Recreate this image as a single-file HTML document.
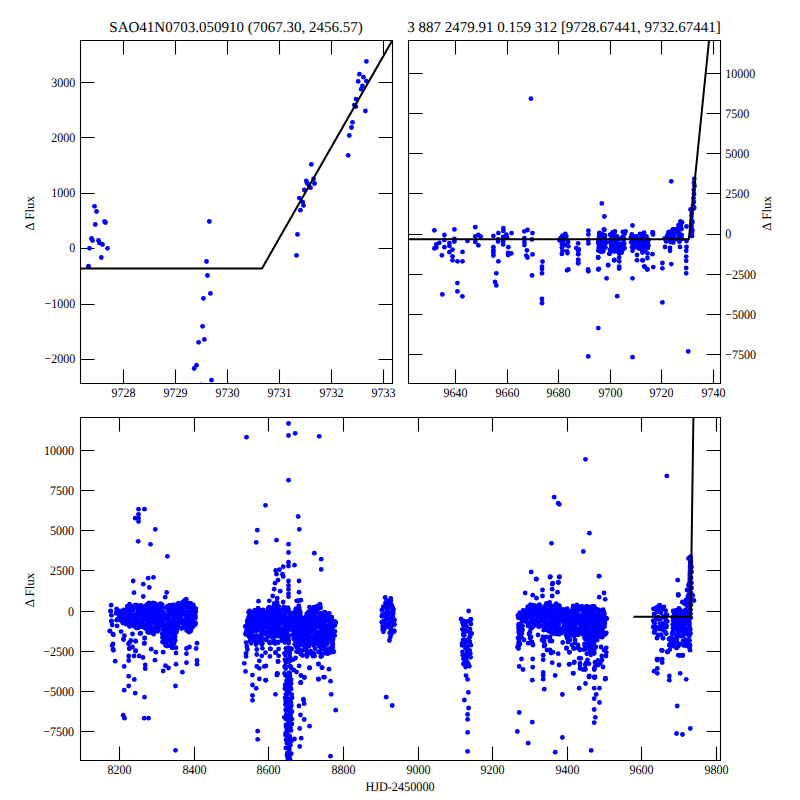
<!DOCTYPE html><html><head><meta charset="utf-8"><style>html,body{margin:0;padding:0;background:#fff;}svg{display:block;font-family:"Liberation Serif",serif;text-rendering:geometricPrecision;}</style></head><body>
<svg width="800" height="800" viewBox="0 0 800 800">
<rect width="800" height="800" fill="#fff"/>
<path d="M80.5 40.5H392.5V383.5H80.5ZM123.50 383.5v-14M123.50 40.5v14M175.50 383.5v-14M175.50 40.5v14M227.50 383.5v-14M227.50 40.5v14M279.50 383.5v-14M279.50 40.5v14M331.50 383.5v-14M331.50 40.5v14M383.50 383.5v-14M383.50 40.5v14M80.5 82.50h14M392.5 82.50h-14M80.5 137.50h14M392.5 137.50h-14M80.5 193.50h14M392.5 193.50h-14M80.5 248.50h14M392.5 248.50h-14M80.5 304.50h14M392.5 304.50h-14M80.5 359.50h14M392.5 359.50h-14" fill="none" stroke="#000" stroke-width="1.1"/>
<path d="M408.5 40.5H720.5V383.5H408.5ZM455.50 383.5v-14M455.50 40.5v14M507.50 383.5v-14M507.50 40.5v14M558.50 383.5v-14M558.50 40.5v14M610.50 383.5v-14M610.50 40.5v14M661.50 383.5v-14M661.50 40.5v14M713.50 383.5v-14M713.50 40.5v14M408.5 73.50h14M720.5 73.50h-14M408.5 113.50h14M720.5 113.50h-14M408.5 153.50h14M720.5 153.50h-14M408.5 193.50h14M720.5 193.50h-14M408.5 234.50h14M720.5 234.50h-14M408.5 274.50h14M720.5 274.50h-14M408.5 314.50h14M720.5 314.50h-14M408.5 354.50h14M720.5 354.50h-14" fill="none" stroke="#000" stroke-width="1.1"/>
<path d="M80.5 417.5H720.5V760.5H80.5ZM119.50 760.5v-14M119.50 417.5v14M194.50 760.5v-14M194.50 417.5v14M268.50 760.5v-14M268.50 417.5v14M343.50 760.5v-14M343.50 417.5v14M418.50 760.5v-14M418.50 417.5v14M492.50 760.5v-14M492.50 417.5v14M567.50 760.5v-14M567.50 417.5v14M641.50 760.5v-14M641.50 417.5v14M716.50 760.5v-14M716.50 417.5v14M80.5 450.50h14M720.5 450.50h-14M80.5 490.50h14M720.5 490.50h-14M80.5 530.50h14M720.5 530.50h-14M80.5 570.50h14M720.5 570.50h-14M80.5 611.50h14M720.5 611.50h-14M80.5 651.50h14M720.5 651.50h-14M80.5 691.50h14M720.5 691.50h-14M80.5 731.50h14M720.5 731.50h-14" fill="none" stroke="#000" stroke-width="1.1"/>
<clipPath id="c1"><rect x="80.5" y="40.5" width="312.0" height="343.0"/></clipPath>
<clipPath id="c2"><rect x="408.5" y="40.5" width="312.0" height="343.0"/></clipPath>
<clipPath id="c3"><rect x="80.5" y="417.5" width="640.0" height="343.0"/></clipPath>
<g clip-path="url(#c1)" fill="#0000ff">
<circle cx="94.5" cy="206.3" r="2.4"/><circle cx="96.5" cy="211.5" r="2.4"/><circle cx="104.5" cy="221.5" r="2.4"/><circle cx="105.5" cy="222.5" r="2.4"/><circle cx="95.3" cy="224.5" r="2.4"/><circle cx="91.5" cy="238.5" r="2.4"/><circle cx="92.5" cy="240.5" r="2.4"/><circle cx="98.5" cy="240.5" r="2.4"/><circle cx="99.5" cy="243.0" r="2.4"/><circle cx="102.5" cy="244.5" r="2.4"/><circle cx="89.5" cy="248.3" r="2.4"/><circle cx="107.5" cy="248.3" r="2.4"/><circle cx="101.3" cy="257.5" r="2.4"/><circle cx="88.5" cy="266.2" r="2.4"/><circle cx="209.3" cy="221.5" r="2.4"/><circle cx="206.5" cy="261.5" r="2.4"/><circle cx="207.5" cy="275.5" r="2.4"/><circle cx="210.4" cy="293.4" r="2.4"/><circle cx="203.4" cy="298.4" r="2.4"/><circle cx="202.6" cy="326.3" r="2.4"/><circle cx="204.4" cy="339.4" r="2.4"/><circle cx="198.6" cy="342.3" r="2.4"/><circle cx="196.5" cy="365.2" r="2.4"/><circle cx="194.2" cy="368.5" r="2.4"/><circle cx="211.5" cy="380.2" r="2.4"/><circle cx="200.5" cy="384.8" r="2.4"/><circle cx="311.3" cy="164.4" r="2.4"/><circle cx="306.3" cy="181.0" r="2.4"/><circle cx="307.2" cy="183.2" r="2.4"/><circle cx="308.8" cy="184.9" r="2.4"/><circle cx="313.6" cy="179.0" r="2.4"/><circle cx="314.5" cy="183.5" r="2.4"/><circle cx="310.5" cy="187.7" r="2.4"/><circle cx="304.3" cy="190.0" r="2.4"/><circle cx="299.3" cy="198.1" r="2.4"/><circle cx="302.7" cy="202.1" r="2.4"/><circle cx="303.5" cy="205.4" r="2.4"/><circle cx="300.4" cy="210.2" r="2.4"/><circle cx="297.5" cy="234.4" r="2.4"/><circle cx="296.5" cy="255.4" r="2.4"/><circle cx="366.4" cy="61.4" r="2.4"/><circle cx="359.4" cy="74.2" r="2.4"/><circle cx="363.5" cy="77.2" r="2.4"/><circle cx="358.2" cy="81.4" r="2.4"/><circle cx="366.3" cy="81.1" r="2.4"/><circle cx="362.4" cy="86.0" r="2.4"/><circle cx="361.2" cy="89.2" r="2.4"/><circle cx="356.0" cy="99.1" r="2.4"/><circle cx="354.3" cy="105.1" r="2.4"/><circle cx="355.8" cy="106.6" r="2.4"/><circle cx="365.4" cy="111.0" r="2.4"/><circle cx="352.5" cy="122.3" r="2.4"/><circle cx="351.5" cy="127.5" r="2.4"/><circle cx="349.3" cy="135.5" r="2.4"/><circle cx="348.2" cy="155.3" r="2.4"/>
</g>
<g clip-path="url(#c2)" fill="#0000ff">
<circle cx="434.4" cy="230.3" r="2.4"/><circle cx="454.4" cy="229.4" r="2.4"/><circle cx="444.4" cy="235.0" r="2.4"/><circle cx="444.4" cy="240.0" r="2.4"/><circle cx="454.4" cy="238.8" r="2.4"/><circle cx="454.4" cy="241.6" r="2.4"/><circle cx="439.4" cy="242.8" r="2.4"/><circle cx="436.3" cy="244.4" r="2.4"/><circle cx="434.4" cy="248.4" r="2.4"/><circle cx="436.3" cy="247.5" r="2.4"/><circle cx="449.4" cy="243.1" r="2.4"/><circle cx="449.4" cy="245.9" r="2.4"/><circle cx="444.4" cy="247.2" r="2.4"/><circle cx="452.5" cy="249.7" r="2.4"/><circle cx="449.4" cy="252.2" r="2.4"/><circle cx="441.9" cy="255.3" r="2.4"/><circle cx="452.5" cy="256.3" r="2.4"/><circle cx="452.5" cy="260.3" r="2.4"/><circle cx="457.5" cy="261.3" r="2.4"/><circle cx="462.5" cy="261.3" r="2.4"/><circle cx="462.5" cy="251.9" r="2.4"/><circle cx="467.5" cy="240.9" r="2.4"/><circle cx="457.4" cy="283.1" r="2.4"/><circle cx="457.4" cy="291.3" r="2.4"/><circle cx="442.4" cy="294.4" r="2.4"/><circle cx="462.4" cy="296.3" r="2.4"/><circle cx="475.3" cy="227.2" r="2.4"/><circle cx="475.3" cy="236.3" r="2.4"/><circle cx="478.4" cy="235.0" r="2.4"/><circle cx="480.6" cy="236.6" r="2.4"/><circle cx="475.3" cy="241.9" r="2.4"/><circle cx="478.4" cy="245.3" r="2.4"/><circle cx="493.4" cy="235.9" r="2.4"/><circle cx="498.4" cy="233.1" r="2.4"/><circle cx="503.4" cy="228.1" r="2.4"/><circle cx="503.4" cy="230.9" r="2.4"/><circle cx="511.6" cy="233.1" r="2.4"/><circle cx="506.3" cy="234.7" r="2.4"/><circle cx="503.1" cy="236.9" r="2.4"/><circle cx="506.9" cy="237.2" r="2.4"/><circle cx="498.1" cy="239.4" r="2.4"/><circle cx="498.1" cy="241.6" r="2.4"/><circle cx="503.1" cy="241.3" r="2.4"/><circle cx="503.1" cy="244.4" r="2.4"/><circle cx="508.4" cy="247.2" r="2.4"/><circle cx="493.4" cy="247.2" r="2.4"/><circle cx="493.4" cy="250.3" r="2.4"/><circle cx="493.4" cy="252.8" r="2.4"/><circle cx="493.4" cy="255.6" r="2.4"/><circle cx="508.1" cy="252.8" r="2.4"/><circle cx="511.3" cy="253.4" r="2.4"/><circle cx="508.1" cy="255.0" r="2.4"/><circle cx="498.4" cy="261.3" r="2.4"/><circle cx="496.3" cy="273.3" r="2.4"/><circle cx="495.0" cy="281.9" r="2.4"/><circle cx="496.3" cy="285.4" r="2.4"/><circle cx="524.4" cy="231.3" r="2.4"/><circle cx="527.5" cy="230.0" r="2.4"/><circle cx="532.5" cy="233.1" r="2.4"/><circle cx="524.4" cy="238.1" r="2.4"/><circle cx="524.4" cy="241.9" r="2.4"/><circle cx="524.4" cy="245.0" r="2.4"/><circle cx="531.9" cy="239.4" r="2.4"/><circle cx="526.9" cy="250.3" r="2.4"/><circle cx="526.3" cy="255.6" r="2.4"/><circle cx="527.5" cy="257.5" r="2.4"/><circle cx="532.5" cy="254.4" r="2.4"/><circle cx="542.5" cy="261.6" r="2.4"/><circle cx="542.0" cy="266.6" r="2.4"/><circle cx="542.0" cy="269.1" r="2.4"/><circle cx="542.0" cy="273.3" r="2.4"/><circle cx="542.0" cy="299.0" r="2.4"/><circle cx="542.0" cy="303.2" r="2.4"/><circle cx="532.1" cy="275.4" r="2.4"/><circle cx="559.4" cy="240.0" r="2.4"/><circle cx="567.0" cy="270.3" r="2.4"/><circle cx="530.9" cy="98.7" r="2.4"/><circle cx="565.3" cy="233.8" r="2.4"/><circle cx="562.5" cy="235.6" r="2.4"/><circle cx="566.3" cy="236.3" r="2.4"/><circle cx="560.6" cy="238.1" r="2.4"/><circle cx="564.4" cy="238.8" r="2.4"/><circle cx="560.0" cy="240.6" r="2.4"/><circle cx="563.1" cy="241.3" r="2.4"/><circle cx="568.1" cy="241.9" r="2.4"/><circle cx="561.9" cy="244.4" r="2.4"/><circle cx="565.0" cy="245.0" r="2.4"/><circle cx="568.4" cy="246.3" r="2.4"/><circle cx="561.9" cy="247.5" r="2.4"/><circle cx="562.5" cy="250.6" r="2.4"/><circle cx="566.9" cy="251.3" r="2.4"/><circle cx="561.9" cy="253.8" r="2.4"/><circle cx="567.5" cy="253.1" r="2.4"/><circle cx="578.1" cy="243.4" r="2.4"/><circle cx="576.3" cy="248.1" r="2.4"/><circle cx="578.8" cy="249.4" r="2.4"/><circle cx="578.1" cy="254.1" r="2.4"/><circle cx="578.1" cy="260.0" r="2.4"/><circle cx="578.1" cy="263.1" r="2.4"/><circle cx="568.4" cy="269.4" r="2.4"/><circle cx="588.4" cy="230.6" r="2.4"/><circle cx="588.4" cy="234.4" r="2.4"/><circle cx="588.4" cy="240.0" r="2.4"/><circle cx="588.4" cy="243.4" r="2.4"/><circle cx="588.1" cy="269.4" r="2.4"/><circle cx="603.8" cy="229.4" r="2.4"/><circle cx="599.4" cy="233.1" r="2.4"/><circle cx="602.5" cy="235.6" r="2.4"/><circle cx="598.8" cy="238.8" r="2.4"/><circle cx="602.5" cy="240.0" r="2.4"/><circle cx="598.1" cy="243.1" r="2.4"/><circle cx="601.9" cy="245.0" r="2.4"/><circle cx="598.8" cy="246.9" r="2.4"/><circle cx="601.3" cy="249.4" r="2.4"/><circle cx="601.3" cy="251.9" r="2.4"/><circle cx="598.1" cy="257.5" r="2.4"/><circle cx="598.8" cy="268.8" r="2.4"/><circle cx="578.3" cy="250.8" r="2.4"/><circle cx="578.3" cy="254.2" r="2.4"/><circle cx="578.3" cy="260.0" r="2.4"/><circle cx="578.3" cy="263.3" r="2.4"/><circle cx="588.3" cy="271.3" r="2.4"/><circle cx="598.3" cy="257.5" r="2.4"/><circle cx="598.3" cy="269.5" r="2.4"/><circle cx="601.3" cy="251.3" r="2.4"/><circle cx="608.2" cy="265.3" r="2.4"/><circle cx="606.6" cy="278.3" r="2.4"/><circle cx="609.6" cy="253.3" r="2.4"/><circle cx="614.2" cy="260.3" r="2.4"/><circle cx="619.2" cy="253.3" r="2.4"/><circle cx="619.2" cy="257.5" r="2.4"/><circle cx="619.2" cy="261.3" r="2.4"/><circle cx="619.2" cy="266.6" r="2.4"/><circle cx="619.2" cy="268.6" r="2.4"/><circle cx="617.2" cy="296.2" r="2.4"/><circle cx="632.5" cy="250.8" r="2.4"/><circle cx="632.5" cy="278.3" r="2.4"/><circle cx="637.0" cy="255.0" r="2.4"/><circle cx="637.0" cy="260.3" r="2.4"/><circle cx="642.8" cy="260.3" r="2.4"/><circle cx="644.5" cy="266.6" r="2.4"/><circle cx="647.0" cy="269.1" r="2.4"/><circle cx="598.3" cy="328.1" r="2.4"/><circle cx="588.3" cy="356.4" r="2.4"/><circle cx="632.5" cy="357.2" r="2.4"/><circle cx="609.4" cy="253.8" r="2.4"/><circle cx="614.4" cy="260.0" r="2.4"/><circle cx="608.1" cy="265.0" r="2.4"/><circle cx="642.5" cy="252.5" r="2.4"/><circle cx="647.5" cy="253.3" r="2.4"/><circle cx="652.5" cy="254.2" r="2.4"/><circle cx="642.5" cy="260.3" r="2.4"/><circle cx="647.5" cy="258.0" r="2.4"/><circle cx="644.2" cy="266.6" r="2.4"/><circle cx="647.5" cy="269.6" r="2.4"/><circle cx="653.3" cy="267.1" r="2.4"/><circle cx="662.4" cy="263.0" r="2.4"/><circle cx="662.4" cy="268.3" r="2.4"/><circle cx="671.3" cy="264.1" r="2.4"/><circle cx="670.0" cy="250.8" r="2.4"/><circle cx="686.2" cy="250.8" r="2.4"/><circle cx="686.2" cy="256.6" r="2.4"/><circle cx="686.2" cy="260.8" r="2.4"/><circle cx="686.2" cy="268.0" r="2.4"/><circle cx="686.2" cy="273.3" r="2.4"/><circle cx="662.4" cy="302.4" r="2.4"/><circle cx="688.2" cy="351.4" r="2.4"/><circle cx="604.4" cy="216.5" r="2.4"/><circle cx="632.5" cy="225.5" r="2.4"/><circle cx="604.4" cy="230.0" r="2.4"/><circle cx="599.5" cy="233.0" r="2.4"/><circle cx="612.6" cy="232.3" r="2.4"/><circle cx="614.9" cy="231.5" r="2.4"/><circle cx="622.8" cy="231.9" r="2.4"/><circle cx="624.6" cy="233.8" r="2.4"/><circle cx="631.8" cy="234.5" r="2.4"/><circle cx="640.0" cy="233.8" r="2.4"/><circle cx="644.1" cy="232.6" r="2.4"/><circle cx="652.8" cy="232.3" r="2.4"/><circle cx="601.8" cy="203.4" r="2.4"/><circle cx="671.3" cy="181.3" r="2.4"/><circle cx="652.5" cy="232.5" r="2.4"/><circle cx="653.0" cy="234.5" r="2.4"/><circle cx="686.5" cy="226.5" r="2.4"/><circle cx="692.0" cy="229.5" r="2.4"/><circle cx="692.0" cy="236.0" r="2.4"/><circle cx="686.5" cy="241.0" r="2.4"/><circle cx="694.3" cy="179.0" r="2.4"/><circle cx="694.0" cy="183.0" r="2.4"/><circle cx="694.5" cy="186.0" r="2.4"/><circle cx="693.8" cy="190.0" r="2.4"/><circle cx="694.0" cy="194.0" r="2.4"/><circle cx="693.5" cy="198.0" r="2.4"/><circle cx="693.8" cy="202.0" r="2.4"/><circle cx="693.0" cy="206.0" r="2.4"/><circle cx="692.8" cy="209.0" r="2.4"/><circle cx="691.8" cy="213.0" r="2.4"/><circle cx="694.0" cy="208.0" r="2.4"/><circle cx="691.5" cy="216.0" r="2.4"/><circle cx="691.5" cy="220.0" r="2.4"/><circle cx="691.3" cy="223.0" r="2.4"/><circle cx="691.5" cy="226.0" r="2.4"/><circle cx="692.5" cy="222.0" r="2.4"/><circle cx="694.1" cy="207.5" r="2.4"/><circle cx="690.5" cy="209.5" r="2.4"/><circle cx="692.3" cy="231.0" r="2.4"/><circle cx="691.8" cy="233.5" r="2.4"/><circle cx="665.0" cy="247.0" r="2.4"/><circle cx="670.0" cy="248.0" r="2.4"/><circle cx="680.0" cy="247.0" r="2.4"/><circle cx="686.5" cy="247.0" r="2.4"/><circle cx="599.4" cy="235.7" r="2.4"/><circle cx="601.5" cy="235.2" r="2.4"/><circle cx="601.1" cy="239.0" r="2.4"/><circle cx="603.4" cy="237.8" r="2.4"/><circle cx="599.9" cy="240.8" r="2.4"/><circle cx="603.3" cy="242.1" r="2.4"/><circle cx="600.7" cy="245.1" r="2.4"/><circle cx="605.0" cy="243.3" r="2.4"/><circle cx="599.5" cy="247.6" r="2.4"/><circle cx="602.5" cy="247.4" r="2.4"/><circle cx="605.2" cy="247.5" r="2.4"/><circle cx="600.3" cy="234.4" r="2.4"/><circle cx="602.4" cy="234.4" r="2.4"/><circle cx="604.9" cy="235.4" r="2.4"/><circle cx="604.7" cy="238.0" r="2.4"/><circle cx="606.6" cy="242.5" r="2.4"/><circle cx="605.2" cy="247.3" r="2.4"/><circle cx="603.3" cy="251.2" r="2.4"/><circle cx="601.5" cy="251.2" r="2.4"/><circle cx="598.3" cy="250.5" r="2.4"/><circle cx="599.9" cy="251.1" r="2.4"/><circle cx="599.0" cy="248.0" r="2.4"/><circle cx="598.3" cy="241.7" r="2.4"/><circle cx="599.6" cy="240.4" r="2.4"/><circle cx="599.1" cy="236.0" r="2.4"/><circle cx="612.3" cy="237.6" r="2.4"/><circle cx="615.8" cy="237.6" r="2.4"/><circle cx="614.1" cy="239.0" r="2.4"/><circle cx="616.7" cy="239.6" r="2.4"/><circle cx="619.7" cy="239.1" r="2.4"/><circle cx="623.9" cy="239.3" r="2.4"/><circle cx="610.9" cy="241.6" r="2.4"/><circle cx="613.9" cy="241.9" r="2.4"/><circle cx="617.2" cy="242.9" r="2.4"/><circle cx="621.3" cy="243.7" r="2.4"/><circle cx="612.7" cy="245.6" r="2.4"/><circle cx="616.8" cy="246.1" r="2.4"/><circle cx="620.2" cy="244.9" r="2.4"/><circle cx="622.7" cy="245.5" r="2.4"/><circle cx="612.2" cy="247.6" r="2.4"/><circle cx="614.0" cy="247.5" r="2.4"/><circle cx="617.5" cy="247.6" r="2.4"/><circle cx="621.3" cy="248.1" r="2.4"/><circle cx="624.1" cy="248.5" r="2.4"/><circle cx="614.3" cy="251.5" r="2.4"/><circle cx="616.4" cy="251.0" r="2.4"/><circle cx="619.9" cy="250.0" r="2.4"/><circle cx="614.1" cy="234.2" r="2.4"/><circle cx="612.9" cy="233.1" r="2.4"/><circle cx="617.0" cy="236.3" r="2.4"/><circle cx="622.5" cy="236.8" r="2.4"/><circle cx="625.6" cy="231.4" r="2.4"/><circle cx="623.4" cy="237.3" r="2.4"/><circle cx="623.8" cy="239.8" r="2.4"/><circle cx="624.2" cy="243.7" r="2.4"/><circle cx="624.5" cy="247.9" r="2.4"/><circle cx="621.9" cy="251.6" r="2.4"/><circle cx="621.5" cy="252.7" r="2.4"/><circle cx="617.7" cy="251.1" r="2.4"/><circle cx="611.4" cy="250.9" r="2.4"/><circle cx="610.0" cy="249.6" r="2.4"/><circle cx="611.2" cy="245.7" r="2.4"/><circle cx="610.6" cy="242.0" r="2.4"/><circle cx="610.5" cy="239.7" r="2.4"/><circle cx="610.1" cy="234.7" r="2.4"/><circle cx="634.2" cy="236.7" r="2.4"/><circle cx="644.3" cy="236.6" r="2.4"/><circle cx="632.9" cy="238.3" r="2.4"/><circle cx="635.2" cy="238.3" r="2.4"/><circle cx="639.9" cy="238.8" r="2.4"/><circle cx="641.2" cy="238.3" r="2.4"/><circle cx="645.5" cy="237.7" r="2.4"/><circle cx="635.5" cy="241.4" r="2.4"/><circle cx="637.7" cy="240.1" r="2.4"/><circle cx="640.4" cy="239.8" r="2.4"/><circle cx="643.7" cy="241.6" r="2.4"/><circle cx="645.8" cy="240.9" r="2.4"/><circle cx="633.4" cy="243.4" r="2.4"/><circle cx="637.0" cy="243.1" r="2.4"/><circle cx="639.5" cy="243.8" r="2.4"/><circle cx="642.5" cy="244.2" r="2.4"/><circle cx="644.4" cy="243.7" r="2.4"/><circle cx="647.8" cy="243.8" r="2.4"/><circle cx="632.5" cy="246.3" r="2.4"/><circle cx="633.5" cy="246.0" r="2.4"/><circle cx="637.9" cy="246.9" r="2.4"/><circle cx="640.8" cy="246.7" r="2.4"/><circle cx="642.5" cy="247.0" r="2.4"/><circle cx="647.0" cy="246.3" r="2.4"/><circle cx="641.2" cy="248.9" r="2.4"/><circle cx="644.9" cy="248.1" r="2.4"/><circle cx="630.9" cy="237.5" r="2.4"/><circle cx="636.4" cy="236.4" r="2.4"/><circle cx="642.9" cy="235.3" r="2.4"/><circle cx="646.4" cy="236.5" r="2.4"/><circle cx="648.5" cy="239.6" r="2.4"/><circle cx="648.2" cy="240.6" r="2.4"/><circle cx="648.4" cy="245.8" r="2.4"/><circle cx="647.8" cy="247.9" r="2.4"/><circle cx="645.2" cy="250.0" r="2.4"/><circle cx="642.3" cy="250.0" r="2.4"/><circle cx="638.6" cy="248.4" r="2.4"/><circle cx="634.1" cy="247.6" r="2.4"/><circle cx="632.2" cy="247.3" r="2.4"/><circle cx="631.2" cy="242.3" r="2.4"/><circle cx="631.7" cy="239.1" r="2.4"/><circle cx="632.8" cy="236.2" r="2.4"/><circle cx="680.8" cy="225.9" r="2.4"/><circle cx="677.0" cy="228.8" r="2.4"/><circle cx="679.1" cy="228.1" r="2.4"/><circle cx="671.3" cy="231.4" r="2.4"/><circle cx="674.2" cy="229.4" r="2.4"/><circle cx="677.7" cy="230.1" r="2.4"/><circle cx="668.2" cy="232.8" r="2.4"/><circle cx="670.0" cy="233.3" r="2.4"/><circle cx="672.8" cy="232.7" r="2.4"/><circle cx="677.4" cy="232.2" r="2.4"/><circle cx="678.7" cy="232.4" r="2.4"/><circle cx="669.2" cy="235.3" r="2.4"/><circle cx="671.7" cy="236.2" r="2.4"/><circle cx="674.1" cy="234.9" r="2.4"/><circle cx="678.7" cy="235.5" r="2.4"/><circle cx="681.6" cy="234.9" r="2.4"/><circle cx="667.7" cy="238.0" r="2.4"/><circle cx="671.5" cy="238.0" r="2.4"/><circle cx="673.4" cy="238.5" r="2.4"/><circle cx="676.1" cy="239.0" r="2.4"/><circle cx="679.7" cy="238.5" r="2.4"/><circle cx="665.9" cy="240.7" r="2.4"/><circle cx="669.1" cy="239.9" r="2.4"/><circle cx="664.6" cy="238.3" r="2.4"/><circle cx="667.1" cy="235.9" r="2.4"/><circle cx="668.7" cy="232.1" r="2.4"/><circle cx="671.7" cy="231.1" r="2.4"/><circle cx="672.8" cy="229.4" r="2.4"/><circle cx="678.5" cy="225.1" r="2.4"/><circle cx="680.4" cy="221.4" r="2.4"/><circle cx="682.0" cy="222.3" r="2.4"/><circle cx="681.5" cy="229.0" r="2.4"/><circle cx="681.0" cy="235.4" r="2.4"/><circle cx="681.9" cy="238.9" r="2.4"/><circle cx="679.5" cy="241.7" r="2.4"/><circle cx="679.2" cy="240.3" r="2.4"/><circle cx="673.3" cy="242.4" r="2.4"/><circle cx="670.7" cy="242.2" r="2.4"/><circle cx="666.5" cy="241.4" r="2.4"/><circle cx="666.2" cy="240.9" r="2.4"/>
</g>
<g clip-path="url(#c3)" fill="#0000ff">
<circle cx="138.5" cy="509.2" r="2.4"/><circle cx="144.5" cy="509.2" r="2.4"/><circle cx="138.5" cy="514.3" r="2.4"/><circle cx="135.2" cy="518.2" r="2.4"/><circle cx="138.5" cy="518.2" r="2.4"/><circle cx="138.5" cy="521.5" r="2.4"/><circle cx="155.3" cy="529.3" r="2.4"/><circle cx="138.2" cy="541.3" r="2.4"/><circle cx="150.5" cy="544.3" r="2.4"/><circle cx="167.4" cy="556.3" r="2.4"/><circle cx="148.2" cy="578.2" r="2.4"/><circle cx="153.5" cy="577.3" r="2.4"/><circle cx="133.2" cy="581.0" r="2.4"/><circle cx="143.3" cy="584.2" r="2.4"/><circle cx="149.3" cy="587.5" r="2.4"/><circle cx="134.0" cy="592.7" r="2.4"/><circle cx="166.7" cy="592.4" r="2.4"/><circle cx="143.3" cy="596.5" r="2.4"/><circle cx="165.2" cy="597.2" r="2.4"/><circle cx="111.2" cy="605.2" r="2.4"/><circle cx="186.2" cy="599.2" r="2.4"/><circle cx="110.7" cy="611.0" r="2.4"/><circle cx="111.5" cy="621.5" r="2.4"/><circle cx="110.0" cy="631.2" r="2.4"/><circle cx="113.0" cy="634.2" r="2.4"/><circle cx="123.5" cy="639.5" r="2.4"/><circle cx="129.5" cy="642.5" r="2.4"/><circle cx="135.5" cy="641.0" r="2.4"/><circle cx="113.0" cy="644.0" r="2.4"/><circle cx="113.0" cy="649.2" r="2.4"/><circle cx="129.5" cy="648.5" r="2.4"/><circle cx="135.5" cy="650.7" r="2.4"/><circle cx="144.5" cy="643.2" r="2.4"/><circle cx="144.5" cy="638.0" r="2.4"/><circle cx="140.0" cy="633.5" r="2.4"/><circle cx="151.2" cy="649.2" r="2.4"/><circle cx="155.8" cy="652.2" r="2.4"/><circle cx="163.2" cy="652.2" r="2.4"/><circle cx="128.7" cy="656.0" r="2.4"/><circle cx="134.0" cy="656.0" r="2.4"/><circle cx="139.2" cy="656.0" r="2.4"/><circle cx="143.0" cy="657.5" r="2.4"/><circle cx="128.7" cy="660.5" r="2.4"/><circle cx="155.0" cy="660.2" r="2.4"/><circle cx="176.0" cy="653.0" r="2.4"/><circle cx="176.0" cy="647.7" r="2.4"/><circle cx="186.5" cy="648.5" r="2.4"/><circle cx="189.5" cy="647.0" r="2.4"/><circle cx="197.0" cy="643.2" r="2.4"/><circle cx="196.2" cy="648.5" r="2.4"/><circle cx="186.5" cy="653.7" r="2.4"/><circle cx="115.2" cy="661.2" r="2.4"/><circle cx="124.2" cy="666.5" r="2.4"/><circle cx="145.2" cy="665.0" r="2.4"/><circle cx="145.2" cy="668.7" r="2.4"/><circle cx="165.5" cy="665.7" r="2.4"/><circle cx="168.5" cy="668.0" r="2.4"/><circle cx="163.2" cy="671.0" r="2.4"/><circle cx="176.0" cy="664.2" r="2.4"/><circle cx="186.5" cy="662.7" r="2.4"/><circle cx="197.0" cy="660.5" r="2.4"/><circle cx="197.0" cy="664.2" r="2.4"/><circle cx="182.4" cy="672.2" r="2.4"/><circle cx="128.7" cy="676.2" r="2.4"/><circle cx="134.3" cy="679.5" r="2.4"/><circle cx="128.7" cy="686.0" r="2.4"/><circle cx="124.2" cy="690.2" r="2.4"/><circle cx="135.2" cy="693.2" r="2.4"/><circle cx="144.5" cy="697.2" r="2.4"/><circle cx="175.5" cy="686.0" r="2.4"/><circle cx="123.2" cy="715.2" r="2.4"/><circle cx="124.5" cy="718.2" r="2.4"/><circle cx="144.2" cy="718.2" r="2.4"/><circle cx="148.5" cy="718.2" r="2.4"/><circle cx="175.5" cy="750.3" r="2.4"/><circle cx="288.5" cy="423.5" r="2.4"/><circle cx="246.5" cy="437.2" r="2.4"/><circle cx="288.5" cy="435.5" r="2.4"/><circle cx="295.2" cy="433.3" r="2.4"/><circle cx="319.2" cy="436.3" r="2.4"/><circle cx="288.5" cy="480.2" r="2.4"/><circle cx="265.5" cy="505.3" r="2.4"/><circle cx="298.2" cy="516.5" r="2.4"/><circle cx="257.3" cy="530.2" r="2.4"/><circle cx="299.3" cy="529.3" r="2.4"/><circle cx="256.2" cy="542.3" r="2.4"/><circle cx="276.5" cy="540.2" r="2.4"/><circle cx="288.5" cy="544.2" r="2.4"/><circle cx="288.5" cy="552.5" r="2.4"/><circle cx="314.3" cy="553.2" r="2.4"/><circle cx="321.2" cy="559.2" r="2.4"/><circle cx="321.2" cy="569.4" r="2.4"/><circle cx="288.5" cy="562.2" r="2.4"/><circle cx="288.5" cy="566.0" r="2.4"/><circle cx="294.5" cy="565.2" r="2.4"/><circle cx="283.2" cy="566.7" r="2.4"/><circle cx="275.7" cy="570.5" r="2.4"/><circle cx="279.5" cy="569.7" r="2.4"/><circle cx="276.5" cy="574.2" r="2.4"/><circle cx="282.5" cy="574.2" r="2.4"/><circle cx="283.2" cy="576.5" r="2.4"/><circle cx="278.0" cy="580.2" r="2.4"/><circle cx="275.0" cy="583.2" r="2.4"/><circle cx="288.5" cy="580.9" r="2.4"/><circle cx="288.5" cy="585.5" r="2.4"/><circle cx="288.5" cy="589.2" r="2.4"/><circle cx="288.5" cy="593.7" r="2.4"/><circle cx="288.5" cy="596.7" r="2.4"/><circle cx="299.0" cy="581.0" r="2.4"/><circle cx="299.0" cy="592.2" r="2.4"/><circle cx="299.0" cy="600.5" r="2.4"/><circle cx="274.2" cy="589.2" r="2.4"/><circle cx="280.2" cy="591.2" r="2.4"/><circle cx="272.7" cy="596.0" r="2.4"/><circle cx="269.3" cy="600.8" r="2.4"/><circle cx="277.2" cy="598.2" r="2.4"/><circle cx="258.5" cy="601.2" r="2.4"/><circle cx="283.2" cy="602.0" r="2.4"/><circle cx="249.5" cy="611.0" r="2.4"/><circle cx="320.0" cy="604.2" r="2.4"/><circle cx="309.5" cy="607.2" r="2.4"/><circle cx="246.1" cy="642.6" r="2.4"/><circle cx="246.8" cy="646.4" r="2.4"/><circle cx="247.4" cy="649.5" r="2.4"/><circle cx="246.1" cy="653.3" r="2.4"/><circle cx="246.1" cy="656.4" r="2.4"/><circle cx="244.3" cy="663.3" r="2.4"/><circle cx="245.5" cy="671.4" r="2.4"/><circle cx="252.4" cy="675.1" r="2.4"/><circle cx="259.3" cy="678.9" r="2.4"/><circle cx="265.5" cy="680.1" r="2.4"/><circle cx="256.1" cy="644.5" r="2.4"/><circle cx="261.8" cy="644.5" r="2.4"/><circle cx="256.8" cy="649.5" r="2.4"/><circle cx="262.4" cy="648.3" r="2.4"/><circle cx="256.8" cy="654.5" r="2.4"/><circle cx="261.8" cy="655.8" r="2.4"/><circle cx="265.5" cy="652.6" r="2.4"/><circle cx="259.3" cy="660.8" r="2.4"/><circle cx="256.8" cy="666.4" r="2.4"/><circle cx="259.3" cy="668.3" r="2.4"/><circle cx="264.3" cy="666.4" r="2.4"/><circle cx="270.5" cy="648.9" r="2.4"/><circle cx="269.9" cy="656.4" r="2.4"/><circle cx="275.5" cy="652.6" r="2.4"/><circle cx="278.6" cy="655.8" r="2.4"/><circle cx="278.0" cy="661.4" r="2.4"/><circle cx="278.6" cy="648.9" r="2.4"/><circle cx="277.4" cy="673.3" r="2.4"/><circle cx="276.8" cy="675.1" r="2.4"/><circle cx="270.2" cy="648.8" r="2.4"/><circle cx="275.5" cy="652.7" r="2.4"/><circle cx="278.1" cy="661.5" r="2.4"/><circle cx="277.2" cy="673.7" r="2.4"/><circle cx="265.9" cy="665.9" r="2.4"/><circle cx="265.9" cy="680.3" r="2.4"/><circle cx="275.5" cy="694.3" r="2.4"/><circle cx="288.6" cy="643.1" r="2.4"/><circle cx="293.0" cy="659.7" r="2.4"/><circle cx="295.6" cy="658.0" r="2.4"/><circle cx="299.1" cy="665.9" r="2.4"/><circle cx="293.9" cy="670.2" r="2.4"/><circle cx="296.5" cy="672.0" r="2.4"/><circle cx="300.9" cy="675.5" r="2.4"/><circle cx="304.4" cy="677.2" r="2.4"/><circle cx="300.9" cy="682.5" r="2.4"/><circle cx="309.6" cy="668.0" r="2.4"/><circle cx="318.4" cy="664.1" r="2.4"/><circle cx="321.9" cy="667.6" r="2.4"/><circle cx="318.4" cy="679.0" r="2.4"/><circle cx="323.6" cy="677.2" r="2.4"/><circle cx="303.5" cy="699.1" r="2.4"/><circle cx="252.5" cy="685.0" r="2.4"/><circle cx="256.2" cy="688.3" r="2.4"/><circle cx="252.5" cy="695.5" r="2.4"/><circle cx="252.5" cy="700.3" r="2.4"/><circle cx="277.2" cy="674.5" r="2.4"/><circle cx="257.7" cy="731.2" r="2.4"/><circle cx="257.7" cy="739.3" r="2.4"/><circle cx="299.0" cy="706.0" r="2.4"/><circle cx="303.5" cy="700.0" r="2.4"/><circle cx="304.2" cy="703.7" r="2.4"/><circle cx="300.5" cy="715.0" r="2.4"/><circle cx="304.2" cy="719.5" r="2.4"/><circle cx="309.5" cy="726.2" r="2.4"/><circle cx="299.7" cy="728.5" r="2.4"/><circle cx="301.2" cy="738.2" r="2.4"/><circle cx="299.7" cy="746.5" r="2.4"/><circle cx="294.5" cy="739.0" r="2.4"/><circle cx="330.5" cy="756.2" r="2.4"/><circle cx="331.2" cy="694.3" r="2.4"/><circle cx="335.7" cy="710.2" r="2.4"/><circle cx="330.5" cy="681.2" r="2.4"/><circle cx="324.5" cy="677.2" r="2.4"/><circle cx="318.5" cy="679.3" r="2.4"/><circle cx="329.0" cy="669.2" r="2.4"/><circle cx="322.2" cy="667.7" r="2.4"/><circle cx="318.5" cy="664.0" r="2.4"/><circle cx="309.5" cy="667.7" r="2.4"/><circle cx="304.2" cy="677.5" r="2.4"/><circle cx="300.5" cy="682.7" r="2.4"/><circle cx="328.0" cy="653.0" r="2.4"/><circle cx="333.0" cy="652.0" r="2.4"/><circle cx="386.2" cy="697.2" r="2.4"/><circle cx="392.2" cy="705.5" r="2.4"/><circle cx="385.1" cy="597.5" r="2.4"/><circle cx="390.8" cy="598.5" r="2.4"/><circle cx="468.6" cy="611.0" r="2.4"/><circle cx="461.0" cy="619.0" r="2.4"/><circle cx="471.0" cy="619.4" r="2.4"/><circle cx="466.0" cy="675.6" r="2.4"/><circle cx="467.6" cy="679.4" r="2.4"/><circle cx="468.4" cy="692.4" r="2.4"/><circle cx="464.4" cy="700.0" r="2.4"/><circle cx="468.6" cy="708.0" r="2.4"/><circle cx="467.6" cy="714.4" r="2.4"/><circle cx="467.6" cy="719.4" r="2.4"/><circle cx="467.6" cy="732.4" r="2.4"/><circle cx="467.6" cy="751.4" r="2.4"/><circle cx="585.5" cy="459.3" r="2.4"/><circle cx="554.2" cy="497.2" r="2.4"/><circle cx="558.2" cy="503.2" r="2.4"/><circle cx="559.3" cy="504.3" r="2.4"/><circle cx="589.4" cy="533.2" r="2.4"/><circle cx="551.5" cy="543.3" r="2.4"/><circle cx="583.3" cy="551.5" r="2.4"/><circle cx="531.2" cy="572.0" r="2.4"/><circle cx="536.5" cy="579.2" r="2.4"/><circle cx="550.0" cy="577.2" r="2.4"/><circle cx="559.3" cy="577.2" r="2.4"/><circle cx="552.7" cy="583.2" r="2.4"/><circle cx="558.2" cy="582.5" r="2.4"/><circle cx="599.2" cy="576.2" r="2.4"/><circle cx="525.2" cy="593.0" r="2.4"/><circle cx="542.5" cy="590.0" r="2.4"/><circle cx="552.2" cy="589.2" r="2.4"/><circle cx="557.5" cy="592.2" r="2.4"/><circle cx="552.2" cy="596.0" r="2.4"/><circle cx="532.7" cy="595.2" r="2.4"/><circle cx="542.5" cy="596.0" r="2.4"/><circle cx="604.0" cy="593.0" r="2.4"/><circle cx="599.2" cy="597.2" r="2.4"/><circle cx="605.2" cy="599.3" r="2.4"/><circle cx="536.5" cy="598.2" r="2.4"/><circle cx="518.5" cy="646.2" r="2.4"/><circle cx="518.5" cy="648.5" r="2.4"/><circle cx="520.0" cy="635.0" r="2.4"/><circle cx="528.2" cy="643.2" r="2.4"/><circle cx="532.7" cy="644.7" r="2.4"/><circle cx="538.0" cy="635.0" r="2.4"/><circle cx="544.0" cy="641.7" r="2.4"/><circle cx="550.0" cy="641.0" r="2.4"/><circle cx="550.0" cy="650.0" r="2.4"/><circle cx="553.0" cy="652.2" r="2.4"/><circle cx="558.2" cy="653.7" r="2.4"/><circle cx="562.7" cy="642.5" r="2.4"/><circle cx="566.5" cy="648.5" r="2.4"/><circle cx="569.5" cy="652.2" r="2.4"/><circle cx="574.0" cy="648.5" r="2.4"/><circle cx="580.0" cy="650.0" r="2.4"/><circle cx="521.5" cy="659.0" r="2.4"/><circle cx="532.7" cy="659.0" r="2.4"/><circle cx="543.2" cy="655.2" r="2.4"/><circle cx="543.2" cy="659.7" r="2.4"/><circle cx="552.2" cy="662.7" r="2.4"/><circle cx="559.0" cy="665.0" r="2.4"/><circle cx="569.5" cy="664.2" r="2.4"/><circle cx="574.0" cy="662.7" r="2.4"/><circle cx="519.2" cy="666.5" r="2.4"/><circle cx="523.0" cy="669.5" r="2.4"/><circle cx="532.7" cy="667.2" r="2.4"/><circle cx="543.2" cy="672.5" r="2.4"/><circle cx="543.2" cy="675.5" r="2.4"/><circle cx="555.2" cy="675.5" r="2.4"/><circle cx="573.2" cy="673.2" r="2.4"/><circle cx="579.2" cy="658.2" r="2.4"/><circle cx="580.0" cy="665.0" r="2.4"/><circle cx="583.0" cy="669.5" r="2.4"/><circle cx="589.0" cy="677.0" r="2.4"/><circle cx="595.0" cy="677.0" r="2.4"/><circle cx="605.5" cy="678.5" r="2.4"/><circle cx="543.2" cy="679.2" r="2.4"/><circle cx="532.3" cy="680.2" r="2.4"/><circle cx="544.3" cy="689.2" r="2.4"/><circle cx="562.4" cy="694.5" r="2.4"/><circle cx="586.0" cy="663.0" r="2.4"/><circle cx="589.0" cy="663.7" r="2.4"/><circle cx="585.2" cy="669.0" r="2.4"/><circle cx="595.0" cy="662.2" r="2.4"/><circle cx="599.5" cy="662.2" r="2.4"/><circle cx="594.2" cy="669.0" r="2.4"/><circle cx="589.0" cy="676.5" r="2.4"/><circle cx="594.5" cy="677.7" r="2.4"/><circle cx="585.5" cy="683.5" r="2.4"/><circle cx="579.2" cy="688.2" r="2.4"/><circle cx="605.2" cy="679.2" r="2.4"/><circle cx="594.2" cy="688.2" r="2.4"/><circle cx="599.5" cy="688.2" r="2.4"/><circle cx="596.2" cy="694.5" r="2.4"/><circle cx="594.2" cy="698.7" r="2.4"/><circle cx="599.5" cy="702.5" r="2.4"/><circle cx="594.2" cy="709.5" r="2.4"/><circle cx="595.3" cy="717.3" r="2.4"/><circle cx="594.2" cy="722.7" r="2.4"/><circle cx="519.2" cy="712.5" r="2.4"/><circle cx="532.3" cy="722.2" r="2.4"/><circle cx="517.3" cy="731.5" r="2.4"/><circle cx="562.4" cy="737.5" r="2.4"/><circle cx="528.2" cy="743.2" r="2.4"/><circle cx="555.2" cy="752.2" r="2.4"/><circle cx="591.2" cy="750.4" r="2.4"/><circle cx="536.2" cy="579.0" r="2.4"/><circle cx="550.4" cy="576.6" r="2.4"/><circle cx="559.5" cy="576.6" r="2.4"/><circle cx="552.3" cy="584.2" r="2.4"/><circle cx="558.5" cy="582.3" r="2.4"/><circle cx="598.9" cy="576.1" r="2.4"/><circle cx="690.5" cy="557.0" r="2.4"/><circle cx="691.0" cy="562.0" r="2.4"/><circle cx="691.5" cy="567.0" r="2.4"/><circle cx="691.5" cy="572.0" r="2.4"/><circle cx="691.0" cy="578.0" r="2.4"/><circle cx="691.5" cy="583.0" r="2.4"/><circle cx="691.5" cy="588.0" r="2.4"/><circle cx="691.0" cy="593.0" r="2.4"/><circle cx="690.5" cy="598.0" r="2.4"/><circle cx="690.0" cy="603.0" r="2.4"/><circle cx="689.5" cy="608.0" r="2.4"/><circle cx="689.0" cy="612.0" r="2.4"/><circle cx="688.5" cy="558.5" r="2.4"/><circle cx="677.7" cy="580.2" r="2.4"/><circle cx="678.3" cy="594.3" r="2.4"/><circle cx="682.5" cy="601.8" r="2.4"/><circle cx="666.8" cy="475.9" r="2.4"/><circle cx="657.0" cy="638.2" r="2.4"/><circle cx="663.0" cy="638.2" r="2.4"/><circle cx="669.0" cy="639.0" r="2.4"/><circle cx="674.2" cy="639.0" r="2.4"/><circle cx="661.5" cy="650.2" r="2.4"/><circle cx="667.5" cy="651.7" r="2.4"/><circle cx="676.5" cy="648.0" r="2.4"/><circle cx="690.0" cy="650.2" r="2.4"/><circle cx="690.0" cy="645.0" r="2.4"/><circle cx="690.0" cy="633.7" r="2.4"/><circle cx="679.5" cy="655.5" r="2.4"/><circle cx="682.5" cy="655.5" r="2.4"/><circle cx="657.0" cy="659.2" r="2.4"/><circle cx="662.2" cy="659.2" r="2.4"/><circle cx="662.2" cy="650.5" r="2.4"/><circle cx="667.5" cy="652.0" r="2.4"/><circle cx="669.7" cy="649.7" r="2.4"/><circle cx="669.3" cy="645.2" r="2.4"/><circle cx="675.0" cy="646.7" r="2.4"/><circle cx="679.5" cy="644.5" r="2.4"/><circle cx="684.7" cy="645.2" r="2.4"/><circle cx="690.0" cy="646.0" r="2.4"/><circle cx="682.5" cy="655.3" r="2.4"/><circle cx="657.3" cy="660.2" r="2.4"/><circle cx="662.2" cy="662.5" r="2.4"/><circle cx="657.3" cy="668.5" r="2.4"/><circle cx="654.0" cy="671.2" r="2.4"/><circle cx="657.3" cy="673.3" r="2.4"/><circle cx="669.3" cy="676.0" r="2.4"/><circle cx="669.3" cy="680.2" r="2.4"/><circle cx="680.2" cy="673.3" r="2.4"/><circle cx="686.2" cy="679.3" r="2.4"/><circle cx="677.2" cy="706.0" r="2.4"/><circle cx="690.3" cy="728.5" r="2.4"/><circle cx="676.5" cy="733.5" r="2.4"/><circle cx="682.5" cy="734.5" r="2.4"/><circle cx="601.0" cy="647.0" r="2.4"/><circle cx="606.3" cy="647.8" r="2.4"/><circle cx="606.3" cy="652.3" r="2.4"/><circle cx="595.8" cy="647.0" r="2.4"/><circle cx="594.3" cy="653.0" r="2.4"/><circle cx="601.8" cy="656.0" r="2.4"/><circle cx="598.0" cy="660.5" r="2.4"/><circle cx="600.3" cy="663.5" r="2.4"/><circle cx="595.0" cy="666.5" r="2.4"/><circle cx="594.3" cy="669.5" r="2.4"/><circle cx="587.5" cy="659.8" r="2.4"/><circle cx="580.8" cy="658.3" r="2.4"/><circle cx="585.3" cy="665.0" r="2.4"/><circle cx="585.3" cy="669.5" r="2.4"/><circle cx="580.0" cy="663.5" r="2.4"/><circle cx="580.0" cy="668.4" r="2.4"/><circle cx="574.4" cy="662.0" r="2.4"/><circle cx="569.1" cy="664.3" r="2.4"/><circle cx="573.3" cy="673.3" r="2.4"/><circle cx="589.4" cy="675.9" r="2.4"/><circle cx="594.3" cy="677.0" r="2.4"/><circle cx="605.5" cy="678.5" r="2.4"/><circle cx="606.3" cy="632.8" r="2.4"/><circle cx="569.5" cy="652.3" r="2.4"/><circle cx="566.5" cy="647.8" r="2.4"/><circle cx="573.3" cy="648.1" r="2.4"/><circle cx="579.3" cy="648.9" r="2.4"/><circle cx="566.5" cy="634.0" r="2.4"/><circle cx="567.0" cy="638.0" r="2.4"/><circle cx="568.0" cy="642.0" r="2.4"/><circle cx="574.0" cy="636.0" r="2.4"/><circle cx="575.0" cy="640.0" r="2.4"/><circle cx="578.0" cy="645.0" r="2.4"/><circle cx="529.0" cy="634.0" r="2.4"/><circle cx="530.0" cy="638.0" r="2.4"/><circle cx="531.0" cy="642.0" r="2.4"/><circle cx="533.0" cy="645.0" r="2.4"/><circle cx="543.0" cy="637.0" r="2.4"/><circle cx="544.0" cy="641.0" r="2.4"/><circle cx="545.0" cy="645.0" r="2.4"/><circle cx="550.0" cy="637.0" r="2.4"/><circle cx="552.0" cy="641.0" r="2.4"/><circle cx="524.0" cy="640.0" r="2.4"/><circle cx="519.0" cy="641.0" r="2.4"/><circle cx="520.0" cy="644.0" r="2.4"/><circle cx="682.4" cy="602.3" r="2.4"/><circle cx="678.3" cy="595.4" r="2.4"/><circle cx="662.9" cy="638.1" r="2.4"/><circle cx="662.1" cy="650.3" r="2.4"/><circle cx="667.8" cy="651.9" r="2.4"/><circle cx="678.3" cy="655.2" r="2.4"/><circle cx="682.4" cy="655.2" r="2.4"/><circle cx="658.0" cy="659.2" r="2.4"/><circle cx="690.5" cy="633.2" r="2.4"/><circle cx="690.5" cy="557.0" r="2.4"/><circle cx="690.5" cy="558.5" r="2.4"/><circle cx="690.4" cy="560.1" r="2.4"/><circle cx="690.4" cy="561.6" r="2.4"/><circle cx="690.3" cy="563.1" r="2.4"/><circle cx="690.3" cy="564.6" r="2.4"/><circle cx="690.2" cy="566.2" r="2.4"/><circle cx="690.2" cy="567.7" r="2.4"/><circle cx="690.2" cy="569.2" r="2.4"/><circle cx="690.1" cy="570.8" r="2.4"/><circle cx="690.1" cy="572.3" r="2.4"/><circle cx="690.0" cy="573.8" r="2.4"/><circle cx="690.0" cy="575.3" r="2.4"/><circle cx="690.0" cy="576.9" r="2.4"/><circle cx="689.9" cy="578.4" r="2.4"/><circle cx="689.9" cy="579.9" r="2.4"/><circle cx="689.8" cy="581.4" r="2.4"/><circle cx="689.8" cy="583.0" r="2.4"/><circle cx="689.8" cy="584.5" r="2.4"/><circle cx="689.7" cy="586.0" r="2.4"/><circle cx="689.7" cy="587.6" r="2.4"/><circle cx="689.6" cy="589.1" r="2.4"/><circle cx="689.6" cy="590.6" r="2.4"/><circle cx="689.5" cy="592.1" r="2.4"/><circle cx="689.5" cy="593.7" r="2.4"/><circle cx="689.5" cy="595.2" r="2.4"/><circle cx="689.4" cy="596.7" r="2.4"/><circle cx="689.4" cy="598.2" r="2.4"/><circle cx="689.3" cy="599.8" r="2.4"/><circle cx="689.3" cy="601.3" r="2.4"/><circle cx="689.2" cy="602.8" r="2.4"/><circle cx="689.2" cy="604.4" r="2.4"/><circle cx="689.2" cy="605.9" r="2.4"/><circle cx="689.1" cy="607.4" r="2.4"/><circle cx="689.1" cy="608.9" r="2.4"/><circle cx="689.0" cy="610.5" r="2.4"/><circle cx="689.0" cy="612.0" r="2.4"/><circle cx="687.0" cy="590.0" r="2.4"/><circle cx="688.0" cy="596.0" r="2.4"/><circle cx="686.0" cy="600.0" r="2.4"/><circle cx="689.0" cy="602.0" r="2.4"/><circle cx="687.5" cy="606.0" r="2.4"/><circle cx="685.0" cy="604.0" r="2.4"/><circle cx="688.5" cy="585.0" r="2.4"/><circle cx="518.5" cy="628.0" r="2.4"/><circle cx="519.0" cy="633.0" r="2.4"/><circle cx="518.0" cy="638.0" r="2.4"/><circle cx="518.5" cy="643.0" r="2.4"/><circle cx="517.5" cy="647.0" r="2.4"/><circle cx="530.0" cy="632.0" r="2.4"/><circle cx="531.0" cy="637.0" r="2.4"/><circle cx="532.0" cy="642.0" r="2.4"/><circle cx="542.0" cy="640.0" r="2.4"/><circle cx="544.0" cy="646.0" r="2.4"/><circle cx="547.0" cy="650.0" r="2.4"/><circle cx="551.0" cy="653.0" r="2.4"/><circle cx="546.0" cy="637.0" r="2.4"/><circle cx="550.0" cy="640.0" r="2.4"/><circle cx="570.0" cy="640.0" r="2.4"/><circle cx="572.0" cy="645.0" r="2.4"/><circle cx="575.0" cy="643.0" r="2.4"/><circle cx="578.0" cy="648.0" r="2.4"/><circle cx="572.0" cy="635.0" r="2.4"/><circle cx="604.0" cy="650.0" r="2.4"/><circle cx="606.0" cy="656.0" r="2.4"/><circle cx="602.0" cy="660.0" r="2.4"/><circle cx="598.0" cy="665.0" r="2.4"/><circle cx="603.0" cy="667.0" r="2.4"/><circle cx="123.6" cy="638.9" r="2.4"/><circle cx="128.5" cy="643.8" r="2.4"/><circle cx="130.9" cy="640.5" r="2.4"/><circle cx="135.8" cy="641.3" r="2.4"/><circle cx="129.3" cy="648.7" r="2.4"/><circle cx="132.5" cy="647.0" r="2.4"/><circle cx="135.8" cy="651.1" r="2.4"/><circle cx="140.7" cy="633.2" r="2.4"/><circle cx="144.7" cy="638.1" r="2.4"/><circle cx="144.3" cy="643.4" r="2.4"/><circle cx="112.2" cy="645.4" r="2.4"/><circle cx="113.4" cy="650.3" r="2.4"/><circle cx="109.8" cy="630.8" r="2.4"/><circle cx="113.4" cy="634.8" r="2.4"/><circle cx="110.6" cy="611.3" r="2.4"/><circle cx="111.4" cy="615.3" r="2.4"/><circle cx="111.4" cy="621.0" r="2.4"/><circle cx="112.2" cy="625.1" r="2.4"/><circle cx="117.1" cy="625.9" r="2.4"/><circle cx="121.1" cy="631.6" r="2.4"/><circle cx="124.4" cy="635.7" r="2.4"/><circle cx="132.5" cy="634.0" r="2.4"/><circle cx="274.4" cy="604.2" r="2.4"/><circle cx="276.1" cy="604.6" r="2.4"/><circle cx="270.2" cy="608.2" r="2.4"/><circle cx="273.1" cy="607.5" r="2.4"/><circle cx="274.3" cy="607.8" r="2.4"/><circle cx="277.6" cy="606.9" r="2.4"/><circle cx="284.1" cy="608.3" r="2.4"/><circle cx="316.8" cy="607.4" r="2.4"/><circle cx="255.0" cy="610.1" r="2.4"/><circle cx="259.3" cy="609.7" r="2.4"/><circle cx="268.4" cy="609.7" r="2.4"/><circle cx="271.4" cy="610.2" r="2.4"/><circle cx="273.7" cy="609.7" r="2.4"/><circle cx="276.8" cy="610.4" r="2.4"/><circle cx="279.6" cy="610.3" r="2.4"/><circle cx="282.7" cy="609.4" r="2.4"/><circle cx="285.9" cy="610.3" r="2.4"/><circle cx="287.9" cy="609.8" r="2.4"/><circle cx="295.7" cy="609.7" r="2.4"/><circle cx="298.6" cy="610.6" r="2.4"/><circle cx="310.4" cy="610.3" r="2.4"/><circle cx="313.3" cy="610.1" r="2.4"/><circle cx="315.0" cy="610.1" r="2.4"/><circle cx="317.8" cy="609.2" r="2.4"/><circle cx="251.9" cy="612.6" r="2.4"/><circle cx="254.8" cy="611.7" r="2.4"/><circle cx="257.8" cy="613.5" r="2.4"/><circle cx="259.4" cy="612.2" r="2.4"/><circle cx="263.4" cy="613.2" r="2.4"/><circle cx="265.8" cy="611.9" r="2.4"/><circle cx="268.8" cy="612.8" r="2.4"/><circle cx="272.8" cy="612.3" r="2.4"/><circle cx="275.0" cy="612.3" r="2.4"/><circle cx="278.0" cy="612.4" r="2.4"/><circle cx="280.4" cy="612.6" r="2.4"/><circle cx="285.3" cy="612.4" r="2.4"/><circle cx="287.8" cy="611.8" r="2.4"/><circle cx="290.7" cy="613.1" r="2.4"/><circle cx="293.7" cy="612.6" r="2.4"/><circle cx="296.3" cy="612.9" r="2.4"/><circle cx="300.1" cy="611.8" r="2.4"/><circle cx="308.2" cy="613.0" r="2.4"/><circle cx="310.6" cy="612.1" r="2.4"/><circle cx="313.7" cy="612.7" r="2.4"/><circle cx="316.9" cy="612.0" r="2.4"/><circle cx="320.7" cy="613.5" r="2.4"/><circle cx="322.9" cy="613.0" r="2.4"/><circle cx="326.1" cy="613.3" r="2.4"/><circle cx="249.1" cy="616.2" r="2.4"/><circle cx="252.8" cy="615.4" r="2.4"/><circle cx="255.7" cy="615.9" r="2.4"/><circle cx="259.5" cy="615.3" r="2.4"/><circle cx="261.8" cy="615.6" r="2.4"/><circle cx="265.5" cy="615.0" r="2.4"/><circle cx="268.3" cy="616.1" r="2.4"/><circle cx="270.7" cy="614.6" r="2.4"/><circle cx="273.2" cy="615.6" r="2.4"/><circle cx="277.2" cy="616.1" r="2.4"/><circle cx="280.5" cy="614.6" r="2.4"/><circle cx="282.1" cy="614.7" r="2.4"/><circle cx="285.1" cy="615.6" r="2.4"/><circle cx="289.6" cy="616.0" r="2.4"/><circle cx="291.3" cy="615.9" r="2.4"/><circle cx="294.4" cy="615.0" r="2.4"/><circle cx="298.3" cy="614.3" r="2.4"/><circle cx="299.9" cy="615.9" r="2.4"/><circle cx="307.0" cy="615.5" r="2.4"/><circle cx="308.8" cy="614.8" r="2.4"/><circle cx="312.7" cy="615.1" r="2.4"/><circle cx="315.2" cy="615.3" r="2.4"/><circle cx="319.8" cy="614.9" r="2.4"/><circle cx="321.9" cy="614.4" r="2.4"/><circle cx="324.3" cy="615.5" r="2.4"/><circle cx="327.0" cy="616.0" r="2.4"/><circle cx="248.6" cy="618.4" r="2.4"/><circle cx="250.8" cy="618.3" r="2.4"/><circle cx="255.3" cy="618.1" r="2.4"/><circle cx="257.4" cy="617.0" r="2.4"/><circle cx="260.3" cy="617.5" r="2.4"/><circle cx="263.8" cy="618.1" r="2.4"/><circle cx="266.4" cy="617.1" r="2.4"/><circle cx="269.6" cy="618.0" r="2.4"/><circle cx="271.6" cy="618.6" r="2.4"/><circle cx="275.6" cy="617.0" r="2.4"/><circle cx="279.2" cy="617.0" r="2.4"/><circle cx="280.9" cy="618.2" r="2.4"/><circle cx="284.5" cy="617.9" r="2.4"/><circle cx="287.6" cy="617.7" r="2.4"/><circle cx="289.9" cy="617.1" r="2.4"/><circle cx="292.4" cy="618.2" r="2.4"/><circle cx="296.8" cy="617.9" r="2.4"/><circle cx="299.8" cy="617.5" r="2.4"/><circle cx="301.8" cy="617.5" r="2.4"/><circle cx="306.1" cy="616.8" r="2.4"/><circle cx="308.3" cy="617.2" r="2.4"/><circle cx="311.9" cy="617.5" r="2.4"/><circle cx="313.9" cy="617.6" r="2.4"/><circle cx="317.4" cy="618.3" r="2.4"/><circle cx="320.0" cy="618.5" r="2.4"/><circle cx="322.5" cy="617.3" r="2.4"/><circle cx="325.5" cy="617.0" r="2.4"/><circle cx="329.9" cy="618.2" r="2.4"/><circle cx="331.6" cy="617.1" r="2.4"/><circle cx="249.6" cy="619.7" r="2.4"/><circle cx="252.9" cy="620.5" r="2.4"/><circle cx="255.2" cy="619.9" r="2.4"/><circle cx="259.4" cy="619.4" r="2.4"/><circle cx="262.4" cy="621.2" r="2.4"/><circle cx="265.7" cy="620.1" r="2.4"/><circle cx="267.9" cy="620.6" r="2.4"/><circle cx="271.1" cy="621.4" r="2.4"/><circle cx="274.2" cy="620.0" r="2.4"/><circle cx="277.6" cy="620.3" r="2.4"/><circle cx="280.0" cy="620.9" r="2.4"/><circle cx="281.8" cy="620.9" r="2.4"/><circle cx="286.1" cy="620.4" r="2.4"/><circle cx="288.8" cy="620.3" r="2.4"/><circle cx="291.2" cy="620.4" r="2.4"/><circle cx="293.8" cy="620.4" r="2.4"/><circle cx="298.1" cy="620.3" r="2.4"/><circle cx="300.9" cy="621.3" r="2.4"/><circle cx="304.6" cy="619.6" r="2.4"/><circle cx="307.4" cy="620.6" r="2.4"/><circle cx="308.9" cy="620.1" r="2.4"/><circle cx="312.2" cy="619.5" r="2.4"/><circle cx="315.9" cy="621.3" r="2.4"/><circle cx="318.4" cy="621.2" r="2.4"/><circle cx="322.2" cy="619.6" r="2.4"/><circle cx="325.6" cy="620.6" r="2.4"/><circle cx="328.7" cy="620.8" r="2.4"/><circle cx="331.3" cy="620.1" r="2.4"/><circle cx="334.4" cy="621.3" r="2.4"/><circle cx="247.5" cy="622.0" r="2.4"/><circle cx="250.4" cy="622.4" r="2.4"/><circle cx="253.6" cy="623.0" r="2.4"/><circle cx="257.7" cy="623.1" r="2.4"/><circle cx="260.1" cy="623.3" r="2.4"/><circle cx="262.9" cy="622.9" r="2.4"/><circle cx="266.8" cy="622.8" r="2.4"/><circle cx="268.6" cy="623.8" r="2.4"/><circle cx="272.8" cy="622.7" r="2.4"/><circle cx="275.0" cy="623.1" r="2.4"/><circle cx="278.5" cy="622.4" r="2.4"/><circle cx="280.3" cy="622.4" r="2.4"/><circle cx="284.9" cy="622.2" r="2.4"/><circle cx="287.2" cy="622.4" r="2.4"/><circle cx="289.7" cy="622.3" r="2.4"/><circle cx="293.1" cy="622.3" r="2.4"/><circle cx="295.3" cy="622.2" r="2.4"/><circle cx="298.6" cy="623.0" r="2.4"/><circle cx="301.4" cy="622.0" r="2.4"/><circle cx="305.2" cy="622.8" r="2.4"/><circle cx="308.7" cy="622.0" r="2.4"/><circle cx="311.1" cy="622.8" r="2.4"/><circle cx="313.3" cy="624.0" r="2.4"/><circle cx="316.7" cy="622.1" r="2.4"/><circle cx="320.2" cy="622.3" r="2.4"/><circle cx="323.6" cy="622.7" r="2.4"/><circle cx="325.5" cy="622.0" r="2.4"/><circle cx="329.8" cy="622.5" r="2.4"/><circle cx="332.9" cy="622.9" r="2.4"/><circle cx="247.5" cy="625.9" r="2.4"/><circle cx="249.5" cy="624.7" r="2.4"/><circle cx="253.2" cy="626.6" r="2.4"/><circle cx="256.0" cy="624.6" r="2.4"/><circle cx="257.8" cy="624.7" r="2.4"/><circle cx="261.1" cy="624.6" r="2.4"/><circle cx="263.9" cy="625.9" r="2.4"/><circle cx="268.6" cy="625.0" r="2.4"/><circle cx="271.8" cy="625.6" r="2.4"/><circle cx="274.4" cy="626.5" r="2.4"/><circle cx="277.7" cy="624.6" r="2.4"/><circle cx="279.4" cy="625.8" r="2.4"/><circle cx="283.7" cy="624.7" r="2.4"/><circle cx="285.4" cy="626.3" r="2.4"/><circle cx="288.0" cy="625.4" r="2.4"/><circle cx="291.5" cy="626.0" r="2.4"/><circle cx="295.7" cy="624.9" r="2.4"/><circle cx="298.3" cy="626.1" r="2.4"/><circle cx="301.5" cy="625.7" r="2.4"/><circle cx="304.7" cy="625.3" r="2.4"/><circle cx="306.6" cy="625.0" r="2.4"/><circle cx="310.4" cy="625.6" r="2.4"/><circle cx="312.3" cy="624.9" r="2.4"/><circle cx="316.3" cy="625.8" r="2.4"/><circle cx="319.2" cy="625.4" r="2.4"/><circle cx="321.8" cy="624.9" r="2.4"/><circle cx="325.2" cy="624.6" r="2.4"/><circle cx="327.7" cy="626.1" r="2.4"/><circle cx="331.2" cy="624.8" r="2.4"/><circle cx="333.2" cy="626.3" r="2.4"/><circle cx="249.1" cy="628.7" r="2.4"/><circle cx="251.0" cy="627.9" r="2.4"/><circle cx="253.4" cy="628.0" r="2.4"/><circle cx="258.3" cy="627.4" r="2.4"/><circle cx="260.4" cy="627.4" r="2.4"/><circle cx="262.4" cy="628.5" r="2.4"/><circle cx="265.8" cy="627.3" r="2.4"/><circle cx="268.6" cy="628.5" r="2.4"/><circle cx="272.5" cy="627.2" r="2.4"/><circle cx="274.7" cy="629.2" r="2.4"/><circle cx="277.7" cy="628.3" r="2.4"/><circle cx="281.1" cy="628.8" r="2.4"/><circle cx="284.5" cy="628.8" r="2.4"/><circle cx="287.4" cy="627.6" r="2.4"/><circle cx="289.6" cy="627.3" r="2.4"/><circle cx="294.0" cy="627.4" r="2.4"/><circle cx="295.3" cy="629.2" r="2.4"/><circle cx="298.7" cy="629.0" r="2.4"/><circle cx="301.4" cy="628.1" r="2.4"/><circle cx="304.7" cy="628.9" r="2.4"/><circle cx="308.5" cy="628.5" r="2.4"/><circle cx="311.8" cy="629.0" r="2.4"/><circle cx="314.0" cy="628.4" r="2.4"/><circle cx="317.2" cy="627.4" r="2.4"/><circle cx="321.0" cy="628.4" r="2.4"/><circle cx="324.0" cy="627.6" r="2.4"/><circle cx="326.4" cy="628.1" r="2.4"/><circle cx="329.8" cy="627.3" r="2.4"/><circle cx="332.0" cy="628.2" r="2.4"/><circle cx="247.1" cy="631.0" r="2.4"/><circle cx="249.2" cy="630.5" r="2.4"/><circle cx="253.8" cy="630.5" r="2.4"/><circle cx="255.7" cy="629.9" r="2.4"/><circle cx="258.2" cy="630.1" r="2.4"/><circle cx="262.7" cy="631.3" r="2.4"/><circle cx="265.6" cy="631.8" r="2.4"/><circle cx="268.0" cy="631.7" r="2.4"/><circle cx="270.9" cy="630.6" r="2.4"/><circle cx="274.7" cy="631.7" r="2.4"/><circle cx="277.7" cy="630.8" r="2.4"/><circle cx="280.4" cy="630.6" r="2.4"/><circle cx="283.8" cy="631.7" r="2.4"/><circle cx="285.4" cy="631.7" r="2.4"/><circle cx="288.1" cy="630.0" r="2.4"/><circle cx="292.3" cy="630.4" r="2.4"/><circle cx="294.8" cy="631.1" r="2.4"/><circle cx="296.8" cy="631.3" r="2.4"/><circle cx="300.3" cy="630.7" r="2.4"/><circle cx="303.5" cy="631.3" r="2.4"/><circle cx="307.3" cy="630.4" r="2.4"/><circle cx="309.0" cy="630.4" r="2.4"/><circle cx="312.6" cy="629.9" r="2.4"/><circle cx="315.1" cy="631.4" r="2.4"/><circle cx="319.2" cy="631.8" r="2.4"/><circle cx="322.8" cy="631.6" r="2.4"/><circle cx="324.5" cy="630.1" r="2.4"/><circle cx="327.4" cy="630.7" r="2.4"/><circle cx="330.9" cy="630.9" r="2.4"/><circle cx="333.5" cy="631.6" r="2.4"/><circle cx="247.9" cy="632.9" r="2.4"/><circle cx="251.9" cy="632.4" r="2.4"/><circle cx="270.3" cy="632.5" r="2.4"/><circle cx="271.6" cy="632.4" r="2.4"/><circle cx="275.2" cy="633.1" r="2.4"/><circle cx="277.4" cy="633.5" r="2.4"/><circle cx="280.4" cy="633.0" r="2.4"/><circle cx="283.8" cy="634.1" r="2.4"/><circle cx="287.1" cy="632.9" r="2.4"/><circle cx="293.6" cy="633.8" r="2.4"/><circle cx="297.2" cy="634.1" r="2.4"/><circle cx="298.8" cy="632.7" r="2.4"/><circle cx="302.8" cy="634.0" r="2.4"/><circle cx="305.3" cy="634.1" r="2.4"/><circle cx="308.4" cy="633.0" r="2.4"/><circle cx="310.6" cy="632.4" r="2.4"/><circle cx="314.6" cy="634.3" r="2.4"/><circle cx="318.2" cy="633.4" r="2.4"/><circle cx="320.6" cy="634.3" r="2.4"/><circle cx="324.0" cy="633.6" r="2.4"/><circle cx="326.1" cy="633.5" r="2.4"/><circle cx="328.6" cy="632.8" r="2.4"/><circle cx="283.1" cy="635.4" r="2.4"/><circle cx="295.7" cy="637.0" r="2.4"/><circle cx="297.4" cy="635.8" r="2.4"/><circle cx="300.3" cy="635.3" r="2.4"/><circle cx="303.3" cy="637.0" r="2.4"/><circle cx="305.9" cy="635.5" r="2.4"/><circle cx="309.2" cy="635.2" r="2.4"/><circle cx="312.9" cy="636.6" r="2.4"/><circle cx="316.5" cy="636.3" r="2.4"/><circle cx="319.5" cy="635.0" r="2.4"/><circle cx="321.3" cy="637.0" r="2.4"/><circle cx="323.9" cy="635.6" r="2.4"/><circle cx="327.8" cy="635.6" r="2.4"/><circle cx="330.9" cy="635.1" r="2.4"/><circle cx="295.9" cy="637.6" r="2.4"/><circle cx="299.0" cy="639.2" r="2.4"/><circle cx="302.9" cy="638.8" r="2.4"/><circle cx="305.2" cy="638.7" r="2.4"/><circle cx="308.2" cy="638.7" r="2.4"/><circle cx="312.0" cy="638.0" r="2.4"/><circle cx="314.5" cy="639.6" r="2.4"/><circle cx="318.0" cy="638.0" r="2.4"/><circle cx="321.3" cy="639.4" r="2.4"/><circle cx="322.6" cy="638.2" r="2.4"/><circle cx="325.7" cy="637.7" r="2.4"/><circle cx="330.3" cy="638.5" r="2.4"/><circle cx="295.8" cy="641.3" r="2.4"/><circle cx="297.7" cy="641.5" r="2.4"/><circle cx="299.9" cy="641.1" r="2.4"/><circle cx="304.5" cy="641.8" r="2.4"/><circle cx="305.9" cy="642.0" r="2.4"/><circle cx="309.6" cy="642.3" r="2.4"/><circle cx="312.5" cy="640.7" r="2.4"/><circle cx="315.9" cy="642.1" r="2.4"/><circle cx="318.7" cy="642.0" r="2.4"/><circle cx="322.2" cy="641.0" r="2.4"/><circle cx="324.4" cy="641.3" r="2.4"/><circle cx="327.6" cy="641.0" r="2.4"/><circle cx="296.6" cy="644.2" r="2.4"/><circle cx="299.2" cy="643.0" r="2.4"/><circle cx="303.3" cy="644.3" r="2.4"/><circle cx="304.4" cy="643.7" r="2.4"/><circle cx="308.8" cy="644.9" r="2.4"/><circle cx="310.4" cy="642.8" r="2.4"/><circle cx="314.3" cy="643.7" r="2.4"/><circle cx="319.9" cy="643.7" r="2.4"/><circle cx="247.3" cy="622.9" r="2.4"/><circle cx="247.4" cy="620.3" r="2.4"/><circle cx="248.8" cy="617.7" r="2.4"/><circle cx="248.6" cy="612.3" r="2.4"/><circle cx="252.6" cy="611.8" r="2.4"/><circle cx="255.0" cy="610.6" r="2.4"/><circle cx="258.1" cy="608.2" r="2.4"/><circle cx="263.2" cy="609.9" r="2.4"/><circle cx="268.3" cy="608.2" r="2.4"/><circle cx="269.2" cy="607.1" r="2.4"/><circle cx="274.1" cy="603.5" r="2.4"/><circle cx="277.1" cy="603.0" r="2.4"/><circle cx="276.8" cy="602.2" r="2.4"/><circle cx="278.7" cy="606.4" r="2.4"/><circle cx="283.7" cy="607.0" r="2.4"/><circle cx="287.9" cy="607.6" r="2.4"/><circle cx="288.6" cy="609.7" r="2.4"/><circle cx="296.1" cy="608.6" r="2.4"/><circle cx="298.8" cy="605.6" r="2.4"/><circle cx="296.6" cy="600.8" r="2.4"/><circle cx="300.9" cy="600.2" r="2.4"/><circle cx="299.1" cy="607.7" r="2.4"/><circle cx="299.6" cy="610.5" r="2.4"/><circle cx="300.3" cy="613.3" r="2.4"/><circle cx="306.7" cy="613.9" r="2.4"/><circle cx="308.5" cy="612.0" r="2.4"/><circle cx="311.1" cy="609.1" r="2.4"/><circle cx="313.8" cy="607.2" r="2.4"/><circle cx="317.4" cy="605.8" r="2.4"/><circle cx="320.0" cy="605.7" r="2.4"/><circle cx="320.6" cy="607.8" r="2.4"/><circle cx="324.7" cy="612.2" r="2.4"/><circle cx="329.3" cy="613.5" r="2.4"/><circle cx="331.7" cy="617.4" r="2.4"/><circle cx="334.9" cy="621.7" r="2.4"/><circle cx="335.7" cy="622.5" r="2.4"/><circle cx="334.9" cy="625.5" r="2.4"/><circle cx="334.9" cy="631.4" r="2.4"/><circle cx="332.6" cy="634.8" r="2.4"/><circle cx="332.1" cy="637.0" r="2.4"/><circle cx="327.9" cy="641.8" r="2.4"/><circle cx="325.1" cy="643.0" r="2.4"/><circle cx="323.9" cy="644.6" r="2.4"/><circle cx="317.5" cy="643.9" r="2.4"/><circle cx="314.8" cy="643.9" r="2.4"/><circle cx="313.6" cy="644.5" r="2.4"/><circle cx="307.9" cy="646.1" r="2.4"/><circle cx="305.3" cy="644.7" r="2.4"/><circle cx="302.9" cy="645.1" r="2.4"/><circle cx="299.6" cy="644.8" r="2.4"/><circle cx="295.2" cy="644.4" r="2.4"/><circle cx="294.8" cy="644.3" r="2.4"/><circle cx="293.6" cy="638.9" r="2.4"/><circle cx="293.2" cy="635.1" r="2.4"/><circle cx="287.6" cy="635.3" r="2.4"/><circle cx="285.2" cy="635.3" r="2.4"/><circle cx="282.0" cy="637.3" r="2.4"/><circle cx="279.7" cy="636.4" r="2.4"/><circle cx="274.6" cy="634.6" r="2.4"/><circle cx="268.9" cy="632.5" r="2.4"/><circle cx="263.8" cy="631.6" r="2.4"/><circle cx="261.4" cy="632.6" r="2.4"/><circle cx="255.8" cy="631.3" r="2.4"/><circle cx="251.1" cy="634.2" r="2.4"/><circle cx="249.6" cy="632.9" r="2.4"/><circle cx="245.9" cy="634.3" r="2.4"/><circle cx="245.7" cy="633.2" r="2.4"/><circle cx="246.6" cy="630.2" r="2.4"/><circle cx="245.2" cy="626.4" r="2.4"/><circle cx="318.8" cy="639.0" r="2.4"/><circle cx="321.2" cy="639.2" r="2.4"/><circle cx="324.9" cy="639.0" r="2.4"/><circle cx="330.2" cy="639.6" r="2.4"/><circle cx="299.5" cy="642.1" r="2.4"/><circle cx="304.2" cy="642.3" r="2.4"/><circle cx="308.7" cy="643.2" r="2.4"/><circle cx="312.5" cy="643.6" r="2.4"/><circle cx="316.1" cy="642.8" r="2.4"/><circle cx="319.5" cy="641.7" r="2.4"/><circle cx="324.8" cy="643.0" r="2.4"/><circle cx="326.9" cy="644.2" r="2.4"/><circle cx="332.2" cy="643.3" r="2.4"/><circle cx="297.8" cy="645.4" r="2.4"/><circle cx="303.4" cy="645.5" r="2.4"/><circle cx="305.6" cy="647.8" r="2.4"/><circle cx="308.9" cy="646.4" r="2.4"/><circle cx="313.9" cy="645.7" r="2.4"/><circle cx="319.2" cy="646.2" r="2.4"/><circle cx="320.6" cy="646.4" r="2.4"/><circle cx="324.6" cy="647.0" r="2.4"/><circle cx="331.0" cy="647.6" r="2.4"/><circle cx="332.7" cy="646.9" r="2.4"/><circle cx="299.4" cy="649.4" r="2.4"/><circle cx="303.0" cy="650.3" r="2.4"/><circle cx="306.8" cy="651.2" r="2.4"/><circle cx="310.7" cy="651.2" r="2.4"/><circle cx="315.1" cy="648.8" r="2.4"/><circle cx="320.7" cy="650.0" r="2.4"/><circle cx="324.8" cy="649.9" r="2.4"/><circle cx="328.4" cy="648.8" r="2.4"/><circle cx="332.5" cy="650.0" r="2.4"/><circle cx="299.3" cy="652.0" r="2.4"/><circle cx="300.8" cy="653.9" r="2.4"/><circle cx="307.2" cy="653.2" r="2.4"/><circle cx="310.6" cy="653.6" r="2.4"/><circle cx="313.7" cy="653.3" r="2.4"/><circle cx="318.3" cy="652.1" r="2.4"/><circle cx="321.5" cy="654.1" r="2.4"/><circle cx="325.3" cy="653.3" r="2.4"/><circle cx="329.3" cy="653.0" r="2.4"/><circle cx="298.7" cy="640.5" r="2.4"/><circle cx="302.2" cy="640.0" r="2.4"/><circle cx="303.9" cy="639.7" r="2.4"/><circle cx="307.5" cy="640.2" r="2.4"/><circle cx="312.6" cy="639.9" r="2.4"/><circle cx="314.3" cy="639.8" r="2.4"/><circle cx="319.1" cy="638.5" r="2.4"/><circle cx="322.7" cy="638.2" r="2.4"/><circle cx="325.2" cy="637.9" r="2.4"/><circle cx="330.4" cy="638.1" r="2.4"/><circle cx="334.7" cy="635.6" r="2.4"/><circle cx="333.0" cy="639.5" r="2.4"/><circle cx="332.4" cy="642.7" r="2.4"/><circle cx="332.8" cy="644.4" r="2.4"/><circle cx="333.8" cy="651.6" r="2.4"/><circle cx="330.3" cy="651.7" r="2.4"/><circle cx="327.3" cy="653.6" r="2.4"/><circle cx="321.7" cy="656.0" r="2.4"/><circle cx="320.8" cy="656.5" r="2.4"/><circle cx="314.6" cy="656.1" r="2.4"/><circle cx="312.8" cy="656.0" r="2.4"/><circle cx="306.9" cy="656.4" r="2.4"/><circle cx="306.6" cy="654.9" r="2.4"/><circle cx="302.4" cy="655.5" r="2.4"/><circle cx="296.4" cy="651.6" r="2.4"/><circle cx="298.0" cy="651.7" r="2.4"/><circle cx="296.5" cy="647.0" r="2.4"/><circle cx="296.5" cy="640.2" r="2.4"/><circle cx="277.0" cy="635.3" r="2.4"/><circle cx="283.1" cy="635.2" r="2.4"/><circle cx="249.1" cy="636.8" r="2.4"/><circle cx="251.4" cy="638.7" r="2.4"/><circle cx="255.2" cy="638.7" r="2.4"/><circle cx="259.5" cy="637.9" r="2.4"/><circle cx="262.9" cy="638.6" r="2.4"/><circle cx="267.7" cy="637.0" r="2.4"/><circle cx="272.4" cy="637.7" r="2.4"/><circle cx="275.3" cy="636.4" r="2.4"/><circle cx="280.2" cy="636.1" r="2.4"/><circle cx="285.0" cy="637.0" r="2.4"/><circle cx="287.1" cy="637.0" r="2.4"/><circle cx="250.1" cy="640.7" r="2.4"/><circle cx="253.5" cy="640.4" r="2.4"/><circle cx="258.0" cy="641.7" r="2.4"/><circle cx="261.8" cy="641.7" r="2.4"/><circle cx="266.0" cy="639.9" r="2.4"/><circle cx="269.1" cy="641.9" r="2.4"/><circle cx="273.9" cy="640.6" r="2.4"/><circle cx="278.0" cy="641.9" r="2.4"/><circle cx="281.7" cy="640.6" r="2.4"/><circle cx="285.6" cy="639.6" r="2.4"/><circle cx="247.8" cy="634.8" r="2.4"/><circle cx="251.4" cy="635.4" r="2.4"/><circle cx="254.0" cy="636.0" r="2.4"/><circle cx="257.4" cy="635.7" r="2.4"/><circle cx="261.3" cy="635.5" r="2.4"/><circle cx="265.3" cy="634.0" r="2.4"/><circle cx="270.0" cy="635.6" r="2.4"/><circle cx="274.8" cy="635.7" r="2.4"/><circle cx="278.9" cy="633.9" r="2.4"/><circle cx="280.4" cy="634.0" r="2.4"/><circle cx="285.4" cy="634.8" r="2.4"/><circle cx="289.1" cy="635.6" r="2.4"/><circle cx="288.2" cy="637.8" r="2.4"/><circle cx="288.1" cy="641.4" r="2.4"/><circle cx="288.5" cy="640.3" r="2.4"/><circle cx="284.9" cy="642.4" r="2.4"/><circle cx="278.2" cy="642.7" r="2.4"/><circle cx="275.1" cy="643.6" r="2.4"/><circle cx="272.9" cy="642.3" r="2.4"/><circle cx="269.9" cy="643.1" r="2.4"/><circle cx="262.3" cy="643.3" r="2.4"/><circle cx="259.3" cy="642.0" r="2.4"/><circle cx="255.6" cy="641.8" r="2.4"/><circle cx="251.2" cy="643.2" r="2.4"/><circle cx="250.5" cy="641.7" r="2.4"/><circle cx="245.8" cy="634.2" r="2.4"/><circle cx="185.9" cy="601.3" r="2.4"/><circle cx="154.1" cy="603.9" r="2.4"/><circle cx="178.4" cy="604.0" r="2.4"/><circle cx="179.9" cy="603.9" r="2.4"/><circle cx="184.3" cy="604.3" r="2.4"/><circle cx="187.1" cy="603.0" r="2.4"/><circle cx="189.0" cy="603.5" r="2.4"/><circle cx="132.1" cy="606.6" r="2.4"/><circle cx="134.6" cy="605.4" r="2.4"/><circle cx="136.5" cy="606.3" r="2.4"/><circle cx="140.8" cy="606.2" r="2.4"/><circle cx="142.5" cy="606.3" r="2.4"/><circle cx="146.1" cy="605.6" r="2.4"/><circle cx="149.3" cy="605.7" r="2.4"/><circle cx="152.4" cy="606.4" r="2.4"/><circle cx="156.1" cy="605.0" r="2.4"/><circle cx="158.2" cy="606.8" r="2.4"/><circle cx="161.4" cy="606.0" r="2.4"/><circle cx="167.7" cy="606.1" r="2.4"/><circle cx="170.3" cy="605.4" r="2.4"/><circle cx="173.4" cy="605.0" r="2.4"/><circle cx="176.2" cy="605.3" r="2.4"/><circle cx="180.0" cy="606.5" r="2.4"/><circle cx="182.0" cy="606.4" r="2.4"/><circle cx="184.9" cy="605.9" r="2.4"/><circle cx="187.4" cy="606.6" r="2.4"/><circle cx="191.7" cy="606.4" r="2.4"/><circle cx="193.2" cy="606.5" r="2.4"/><circle cx="127.4" cy="608.2" r="2.4"/><circle cx="128.7" cy="609.4" r="2.4"/><circle cx="131.7" cy="607.9" r="2.4"/><circle cx="136.2" cy="607.6" r="2.4"/><circle cx="138.7" cy="609.2" r="2.4"/><circle cx="141.8" cy="608.1" r="2.4"/><circle cx="145.1" cy="609.1" r="2.4"/><circle cx="147.8" cy="608.7" r="2.4"/><circle cx="150.2" cy="608.2" r="2.4"/><circle cx="154.6" cy="609.4" r="2.4"/><circle cx="155.6" cy="607.8" r="2.4"/><circle cx="159.0" cy="609.1" r="2.4"/><circle cx="162.0" cy="607.7" r="2.4"/><circle cx="166.2" cy="607.7" r="2.4"/><circle cx="169.6" cy="608.3" r="2.4"/><circle cx="172.4" cy="609.1" r="2.4"/><circle cx="174.0" cy="609.0" r="2.4"/><circle cx="177.4" cy="607.9" r="2.4"/><circle cx="179.6" cy="608.9" r="2.4"/><circle cx="183.7" cy="608.0" r="2.4"/><circle cx="187.3" cy="607.8" r="2.4"/><circle cx="189.5" cy="607.6" r="2.4"/><circle cx="192.3" cy="609.2" r="2.4"/><circle cx="118.6" cy="611.9" r="2.4"/><circle cx="121.2" cy="611.8" r="2.4"/><circle cx="125.4" cy="611.7" r="2.4"/><circle cx="127.8" cy="610.1" r="2.4"/><circle cx="130.4" cy="611.3" r="2.4"/><circle cx="133.1" cy="610.2" r="2.4"/><circle cx="137.7" cy="611.8" r="2.4"/><circle cx="140.8" cy="611.8" r="2.4"/><circle cx="143.2" cy="611.8" r="2.4"/><circle cx="146.5" cy="611.2" r="2.4"/><circle cx="148.9" cy="610.1" r="2.4"/><circle cx="151.2" cy="610.5" r="2.4"/><circle cx="155.0" cy="610.3" r="2.4"/><circle cx="159.1" cy="611.2" r="2.4"/><circle cx="161.6" cy="611.9" r="2.4"/><circle cx="163.5" cy="611.9" r="2.4"/><circle cx="168.1" cy="610.6" r="2.4"/><circle cx="169.3" cy="611.7" r="2.4"/><circle cx="173.9" cy="611.7" r="2.4"/><circle cx="175.9" cy="611.3" r="2.4"/><circle cx="178.3" cy="610.5" r="2.4"/><circle cx="181.9" cy="611.6" r="2.4"/><circle cx="184.2" cy="611.9" r="2.4"/><circle cx="187.1" cy="612.0" r="2.4"/><circle cx="190.5" cy="611.7" r="2.4"/><circle cx="194.8" cy="612.0" r="2.4"/><circle cx="120.8" cy="612.7" r="2.4"/><circle cx="124.5" cy="613.3" r="2.4"/><circle cx="125.7" cy="613.2" r="2.4"/><circle cx="128.6" cy="613.2" r="2.4"/><circle cx="133.0" cy="614.7" r="2.4"/><circle cx="135.9" cy="614.4" r="2.4"/><circle cx="139.3" cy="614.1" r="2.4"/><circle cx="141.4" cy="613.1" r="2.4"/><circle cx="143.9" cy="613.8" r="2.4"/><circle cx="147.0" cy="614.2" r="2.4"/><circle cx="150.2" cy="613.8" r="2.4"/><circle cx="153.7" cy="613.9" r="2.4"/><circle cx="155.9" cy="613.1" r="2.4"/><circle cx="160.0" cy="613.1" r="2.4"/><circle cx="163.0" cy="614.6" r="2.4"/><circle cx="165.4" cy="614.6" r="2.4"/><circle cx="168.8" cy="614.6" r="2.4"/><circle cx="171.7" cy="614.2" r="2.4"/><circle cx="175.0" cy="613.0" r="2.4"/><circle cx="177.6" cy="613.8" r="2.4"/><circle cx="180.5" cy="614.0" r="2.4"/><circle cx="184.5" cy="614.3" r="2.4"/><circle cx="187.3" cy="612.9" r="2.4"/><circle cx="190.0" cy="613.9" r="2.4"/><circle cx="193.5" cy="612.6" r="2.4"/><circle cx="194.9" cy="614.7" r="2.4"/><circle cx="119.3" cy="616.1" r="2.4"/><circle cx="122.0" cy="616.4" r="2.4"/><circle cx="126.1" cy="616.3" r="2.4"/><circle cx="128.7" cy="615.9" r="2.4"/><circle cx="131.5" cy="616.5" r="2.4"/><circle cx="134.6" cy="617.1" r="2.4"/><circle cx="136.2" cy="617.3" r="2.4"/><circle cx="140.3" cy="615.8" r="2.4"/><circle cx="143.0" cy="615.4" r="2.4"/><circle cx="145.5" cy="617.0" r="2.4"/><circle cx="149.5" cy="617.0" r="2.4"/><circle cx="151.4" cy="615.4" r="2.4"/><circle cx="154.8" cy="616.3" r="2.4"/><circle cx="158.5" cy="615.8" r="2.4"/><circle cx="161.6" cy="616.4" r="2.4"/><circle cx="163.7" cy="616.9" r="2.4"/><circle cx="166.2" cy="616.5" r="2.4"/><circle cx="169.4" cy="615.3" r="2.4"/><circle cx="173.1" cy="616.3" r="2.4"/><circle cx="176.3" cy="616.0" r="2.4"/><circle cx="180.0" cy="616.9" r="2.4"/><circle cx="181.4" cy="615.2" r="2.4"/><circle cx="186.1" cy="616.1" r="2.4"/><circle cx="187.3" cy="615.6" r="2.4"/><circle cx="191.5" cy="615.6" r="2.4"/><circle cx="193.8" cy="616.6" r="2.4"/><circle cx="117.9" cy="619.1" r="2.4"/><circle cx="120.2" cy="619.2" r="2.4"/><circle cx="123.9" cy="619.1" r="2.4"/><circle cx="126.6" cy="619.4" r="2.4"/><circle cx="129.0" cy="619.3" r="2.4"/><circle cx="133.6" cy="617.9" r="2.4"/><circle cx="135.1" cy="619.9" r="2.4"/><circle cx="137.7" cy="619.5" r="2.4"/><circle cx="141.8" cy="618.0" r="2.4"/><circle cx="144.9" cy="617.8" r="2.4"/><circle cx="148.3" cy="618.5" r="2.4"/><circle cx="151.5" cy="619.7" r="2.4"/><circle cx="152.8" cy="618.7" r="2.4"/><circle cx="155.9" cy="619.4" r="2.4"/><circle cx="158.8" cy="618.0" r="2.4"/><circle cx="161.8" cy="619.6" r="2.4"/><circle cx="165.1" cy="618.5" r="2.4"/><circle cx="168.5" cy="619.0" r="2.4"/><circle cx="171.4" cy="619.8" r="2.4"/><circle cx="174.3" cy="618.8" r="2.4"/><circle cx="178.4" cy="618.3" r="2.4"/><circle cx="179.9" cy="619.6" r="2.4"/><circle cx="183.2" cy="619.7" r="2.4"/><circle cx="187.3" cy="618.6" r="2.4"/><circle cx="189.2" cy="618.0" r="2.4"/><circle cx="193.4" cy="618.8" r="2.4"/><circle cx="195.3" cy="618.2" r="2.4"/><circle cx="122.4" cy="621.5" r="2.4"/><circle cx="125.1" cy="621.3" r="2.4"/><circle cx="127.5" cy="622.2" r="2.4"/><circle cx="131.9" cy="621.6" r="2.4"/><circle cx="133.6" cy="622.4" r="2.4"/><circle cx="136.5" cy="620.8" r="2.4"/><circle cx="140.4" cy="622.2" r="2.4"/><circle cx="143.3" cy="620.7" r="2.4"/><circle cx="147.1" cy="620.8" r="2.4"/><circle cx="148.8" cy="622.5" r="2.4"/><circle cx="152.7" cy="622.0" r="2.4"/><circle cx="154.2" cy="622.2" r="2.4"/><circle cx="157.9" cy="620.5" r="2.4"/><circle cx="161.7" cy="622.4" r="2.4"/><circle cx="163.1" cy="621.4" r="2.4"/><circle cx="167.9" cy="621.1" r="2.4"/><circle cx="169.7" cy="622.1" r="2.4"/><circle cx="173.0" cy="622.5" r="2.4"/><circle cx="176.8" cy="622.2" r="2.4"/><circle cx="179.5" cy="620.8" r="2.4"/><circle cx="182.5" cy="621.7" r="2.4"/><circle cx="185.1" cy="621.6" r="2.4"/><circle cx="187.7" cy="620.9" r="2.4"/><circle cx="192.0" cy="621.2" r="2.4"/><circle cx="193.3" cy="622.5" r="2.4"/><circle cx="125.9" cy="624.0" r="2.4"/><circle cx="128.8" cy="623.4" r="2.4"/><circle cx="132.6" cy="623.8" r="2.4"/><circle cx="135.7" cy="623.5" r="2.4"/><circle cx="138.2" cy="623.7" r="2.4"/><circle cx="142.4" cy="623.2" r="2.4"/><circle cx="144.4" cy="624.8" r="2.4"/><circle cx="147.8" cy="623.6" r="2.4"/><circle cx="151.6" cy="623.3" r="2.4"/><circle cx="152.8" cy="623.1" r="2.4"/><circle cx="156.5" cy="624.9" r="2.4"/><circle cx="159.1" cy="623.6" r="2.4"/><circle cx="163.2" cy="623.2" r="2.4"/><circle cx="164.6" cy="624.4" r="2.4"/><circle cx="167.7" cy="624.2" r="2.4"/><circle cx="170.9" cy="624.3" r="2.4"/><circle cx="175.3" cy="624.0" r="2.4"/><circle cx="177.1" cy="624.4" r="2.4"/><circle cx="181.0" cy="623.2" r="2.4"/><circle cx="183.1" cy="623.8" r="2.4"/><circle cx="186.6" cy="623.6" r="2.4"/><circle cx="189.9" cy="623.6" r="2.4"/><circle cx="193.5" cy="623.8" r="2.4"/><circle cx="133.8" cy="626.1" r="2.4"/><circle cx="136.6" cy="627.2" r="2.4"/><circle cx="140.3" cy="626.6" r="2.4"/><circle cx="143.0" cy="626.9" r="2.4"/><circle cx="146.5" cy="625.7" r="2.4"/><circle cx="149.8" cy="626.6" r="2.4"/><circle cx="151.8" cy="627.7" r="2.4"/><circle cx="155.6" cy="626.4" r="2.4"/><circle cx="157.1" cy="626.6" r="2.4"/><circle cx="161.0" cy="626.4" r="2.4"/><circle cx="163.3" cy="626.9" r="2.4"/><circle cx="166.6" cy="627.3" r="2.4"/><circle cx="170.2" cy="626.3" r="2.4"/><circle cx="173.8" cy="626.6" r="2.4"/><circle cx="175.2" cy="626.2" r="2.4"/><circle cx="178.2" cy="626.6" r="2.4"/><circle cx="183.0" cy="627.6" r="2.4"/><circle cx="185.4" cy="626.0" r="2.4"/><circle cx="187.6" cy="626.1" r="2.4"/><circle cx="190.8" cy="627.0" r="2.4"/><circle cx="193.1" cy="626.7" r="2.4"/><circle cx="146.7" cy="629.5" r="2.4"/><circle cx="150.2" cy="630.3" r="2.4"/><circle cx="154.5" cy="628.5" r="2.4"/><circle cx="157.0" cy="629.0" r="2.4"/><circle cx="158.8" cy="630.1" r="2.4"/><circle cx="163.5" cy="629.9" r="2.4"/><circle cx="165.9" cy="630.3" r="2.4"/><circle cx="168.7" cy="629.7" r="2.4"/><circle cx="171.9" cy="630.1" r="2.4"/><circle cx="175.3" cy="628.9" r="2.4"/><circle cx="177.0" cy="629.4" r="2.4"/><circle cx="187.0" cy="629.4" r="2.4"/><circle cx="190.0" cy="628.7" r="2.4"/><circle cx="149.3" cy="632.4" r="2.4"/><circle cx="151.7" cy="632.5" r="2.4"/><circle cx="154.1" cy="632.7" r="2.4"/><circle cx="163.8" cy="632.1" r="2.4"/><circle cx="166.7" cy="632.6" r="2.4"/><circle cx="170.7" cy="631.3" r="2.4"/><circle cx="173.6" cy="632.9" r="2.4"/><circle cx="175.5" cy="631.3" r="2.4"/><circle cx="165.9" cy="634.9" r="2.4"/><circle cx="169.3" cy="633.5" r="2.4"/><circle cx="172.4" cy="634.2" r="2.4"/><circle cx="174.9" cy="634.3" r="2.4"/><circle cx="164.6" cy="636.2" r="2.4"/><circle cx="166.2" cy="636.8" r="2.4"/><circle cx="169.5" cy="637.6" r="2.4"/><circle cx="172.4" cy="637.3" r="2.4"/><circle cx="166.6" cy="638.9" r="2.4"/><circle cx="167.7" cy="639.1" r="2.4"/><circle cx="172.1" cy="639.4" r="2.4"/><circle cx="164.8" cy="642.1" r="2.4"/><circle cx="166.3" cy="641.9" r="2.4"/><circle cx="170.6" cy="641.7" r="2.4"/><circle cx="173.9" cy="641.9" r="2.4"/><circle cx="165.3" cy="644.9" r="2.4"/><circle cx="168.7" cy="645.6" r="2.4"/><circle cx="171.2" cy="645.0" r="2.4"/><circle cx="116.6" cy="608.8" r="2.4"/><circle cx="119.8" cy="610.9" r="2.4"/><circle cx="124.0" cy="609.9" r="2.4"/><circle cx="127.4" cy="606.1" r="2.4"/><circle cx="129.6" cy="604.1" r="2.4"/><circle cx="136.0" cy="604.8" r="2.4"/><circle cx="139.3" cy="605.6" r="2.4"/><circle cx="140.9" cy="605.3" r="2.4"/><circle cx="147.4" cy="604.2" r="2.4"/><circle cx="148.9" cy="603.0" r="2.4"/><circle cx="153.1" cy="603.0" r="2.4"/><circle cx="155.4" cy="603.6" r="2.4"/><circle cx="160.4" cy="603.7" r="2.4"/><circle cx="162.2" cy="604.6" r="2.4"/><circle cx="170.1" cy="605.1" r="2.4"/><circle cx="174.5" cy="604.9" r="2.4"/><circle cx="178.5" cy="603.1" r="2.4"/><circle cx="182.7" cy="602.2" r="2.4"/><circle cx="184.5" cy="600.3" r="2.4"/><circle cx="186.1" cy="600.9" r="2.4"/><circle cx="190.8" cy="603.3" r="2.4"/><circle cx="193.3" cy="604.9" r="2.4"/><circle cx="195.9" cy="608.7" r="2.4"/><circle cx="195.6" cy="611.2" r="2.4"/><circle cx="195.4" cy="612.2" r="2.4"/><circle cx="195.4" cy="616.1" r="2.4"/><circle cx="195.6" cy="623.0" r="2.4"/><circle cx="195.3" cy="624.4" r="2.4"/><circle cx="191.3" cy="629.1" r="2.4"/><circle cx="188.9" cy="632.2" r="2.4"/><circle cx="190.7" cy="631.0" r="2.4"/><circle cx="186.6" cy="630.4" r="2.4"/><circle cx="181.6" cy="628.5" r="2.4"/><circle cx="176.6" cy="631.8" r="2.4"/><circle cx="175.1" cy="636.8" r="2.4"/><circle cx="175.2" cy="640.5" r="2.4"/><circle cx="174.0" cy="643.6" r="2.4"/><circle cx="172.4" cy="647.5" r="2.4"/><circle cx="172.3" cy="647.9" r="2.4"/><circle cx="167.7" cy="646.1" r="2.4"/><circle cx="166.1" cy="645.8" r="2.4"/><circle cx="163.4" cy="641.5" r="2.4"/><circle cx="162.5" cy="642.0" r="2.4"/><circle cx="162.5" cy="637.6" r="2.4"/><circle cx="162.2" cy="633.9" r="2.4"/><circle cx="157.5" cy="631.4" r="2.4"/><circle cx="153.5" cy="634.2" r="2.4"/><circle cx="147.8" cy="632.2" r="2.4"/><circle cx="145.0" cy="628.1" r="2.4"/><circle cx="138.3" cy="627.8" r="2.4"/><circle cx="136.4" cy="628.0" r="2.4"/><circle cx="134.5" cy="625.9" r="2.4"/><circle cx="129.5" cy="626.6" r="2.4"/><circle cx="123.0" cy="623.1" r="2.4"/><circle cx="121.5" cy="621.2" r="2.4"/><circle cx="116.7" cy="620.2" r="2.4"/><circle cx="117.4" cy="619.6" r="2.4"/><circle cx="116.2" cy="613.4" r="2.4"/><circle cx="116.7" cy="611.1" r="2.4"/><circle cx="286.7" cy="650.5" r="2.4"/><circle cx="289.8" cy="649.9" r="2.4"/><circle cx="289.6" cy="653.5" r="2.4"/><circle cx="288.1" cy="659.1" r="2.4"/><circle cx="288.6" cy="661.6" r="2.4"/><circle cx="285.5" cy="666.2" r="2.4"/><circle cx="290.0" cy="666.2" r="2.4"/><circle cx="289.0" cy="672.6" r="2.4"/><circle cx="287.1" cy="676.8" r="2.4"/><circle cx="289.9" cy="675.8" r="2.4"/><circle cx="288.8" cy="680.2" r="2.4"/><circle cx="287.3" cy="682.3" r="2.4"/><circle cx="289.9" cy="684.6" r="2.4"/><circle cx="287.2" cy="686.2" r="2.4"/><circle cx="287.2" cy="647.8" r="2.4"/><circle cx="289.5" cy="647.8" r="2.4"/><circle cx="291.7" cy="649.0" r="2.4"/><circle cx="289.5" cy="652.4" r="2.4"/><circle cx="289.8" cy="656.5" r="2.4"/><circle cx="290.4" cy="658.6" r="2.4"/><circle cx="290.0" cy="661.1" r="2.4"/><circle cx="290.8" cy="666.8" r="2.4"/><circle cx="291.3" cy="668.2" r="2.4"/><circle cx="289.7" cy="673.1" r="2.4"/><circle cx="289.8" cy="677.1" r="2.4"/><circle cx="291.1" cy="679.7" r="2.4"/><circle cx="291.1" cy="683.5" r="2.4"/><circle cx="290.9" cy="689.2" r="2.4"/><circle cx="290.7" cy="688.2" r="2.4"/><circle cx="286.2" cy="687.8" r="2.4"/><circle cx="286.1" cy="687.4" r="2.4"/><circle cx="285.2" cy="684.8" r="2.4"/><circle cx="286.5" cy="681.0" r="2.4"/><circle cx="285.5" cy="675.5" r="2.4"/><circle cx="284.5" cy="673.5" r="2.4"/><circle cx="285.6" cy="668.5" r="2.4"/><circle cx="284.7" cy="666.5" r="2.4"/><circle cx="285.9" cy="662.6" r="2.4"/><circle cx="284.9" cy="659.7" r="2.4"/><circle cx="285.4" cy="655.1" r="2.4"/><circle cx="284.4" cy="653.3" r="2.4"/><circle cx="285.9" cy="648.3" r="2.4"/><circle cx="288.0" cy="690.6" r="2.4"/><circle cx="287.4" cy="692.7" r="2.4"/><circle cx="288.9" cy="692.5" r="2.4"/><circle cx="287.0" cy="696.0" r="2.4"/><circle cx="286.9" cy="697.7" r="2.4"/><circle cx="290.5" cy="698.9" r="2.4"/><circle cx="286.0" cy="700.9" r="2.4"/><circle cx="288.3" cy="702.1" r="2.4"/><circle cx="285.7" cy="704.5" r="2.4"/><circle cx="289.6" cy="703.6" r="2.4"/><circle cx="287.8" cy="707.0" r="2.4"/><circle cx="286.3" cy="709.6" r="2.4"/><circle cx="289.2" cy="709.0" r="2.4"/><circle cx="288.7" cy="710.6" r="2.4"/><circle cx="290.0" cy="711.3" r="2.4"/><circle cx="286.3" cy="714.7" r="2.4"/><circle cx="290.3" cy="715.0" r="2.4"/><circle cx="287.0" cy="717.3" r="2.4"/><circle cx="290.5" cy="717.3" r="2.4"/><circle cx="286.2" cy="719.2" r="2.4"/><circle cx="288.9" cy="718.3" r="2.4"/><circle cx="288.5" cy="721.7" r="2.4"/><circle cx="290.0" cy="722.5" r="2.4"/><circle cx="287.0" cy="725.4" r="2.4"/><circle cx="289.0" cy="724.6" r="2.4"/><circle cx="287.0" cy="728.0" r="2.4"/><circle cx="287.0" cy="729.5" r="2.4"/><circle cx="289.9" cy="729.8" r="2.4"/><circle cx="287.0" cy="731.9" r="2.4"/><circle cx="286.9" cy="734.5" r="2.4"/><circle cx="289.4" cy="735.7" r="2.4"/><circle cx="287.9" cy="737.6" r="2.4"/><circle cx="286.4" cy="739.4" r="2.4"/><circle cx="290.1" cy="741.2" r="2.4"/><circle cx="287.7" cy="742.3" r="2.4"/><circle cx="289.6" cy="746.1" r="2.4"/><circle cx="287.8" cy="748.1" r="2.4"/><circle cx="287.4" cy="754.2" r="2.4"/><circle cx="287.4" cy="755.6" r="2.4"/><circle cx="289.4" cy="756.8" r="2.4"/><circle cx="287.7" cy="757.5" r="2.4"/><circle cx="286.0" cy="689.4" r="2.4"/><circle cx="290.0" cy="688.8" r="2.4"/><circle cx="290.1" cy="688.1" r="2.4"/><circle cx="291.7" cy="694.6" r="2.4"/><circle cx="292.1" cy="697.8" r="2.4"/><circle cx="290.9" cy="702.4" r="2.4"/><circle cx="291.3" cy="705.7" r="2.4"/><circle cx="290.4" cy="708.4" r="2.4"/><circle cx="292.0" cy="711.7" r="2.4"/><circle cx="290.2" cy="714.7" r="2.4"/><circle cx="292.0" cy="719.1" r="2.4"/><circle cx="291.8" cy="724.0" r="2.4"/><circle cx="290.3" cy="727.3" r="2.4"/><circle cx="291.0" cy="730.4" r="2.4"/><circle cx="289.9" cy="737.0" r="2.4"/><circle cx="291.7" cy="740.6" r="2.4"/><circle cx="290.5" cy="744.9" r="2.4"/><circle cx="289.5" cy="745.6" r="2.4"/><circle cx="289.4" cy="749.7" r="2.4"/><circle cx="291.3" cy="753.6" r="2.4"/><circle cx="289.9" cy="759.7" r="2.4"/><circle cx="290.0" cy="759.4" r="2.4"/><circle cx="288.1" cy="759.6" r="2.4"/><circle cx="287.9" cy="760.6" r="2.4"/><circle cx="287.1" cy="755.0" r="2.4"/><circle cx="287.5" cy="752.9" r="2.4"/><circle cx="285.8" cy="748.0" r="2.4"/><circle cx="287.0" cy="743.3" r="2.4"/><circle cx="286.1" cy="739.8" r="2.4"/><circle cx="285.5" cy="734.9" r="2.4"/><circle cx="285.7" cy="732.9" r="2.4"/><circle cx="286.1" cy="726.7" r="2.4"/><circle cx="286.0" cy="724.8" r="2.4"/><circle cx="285.9" cy="718.5" r="2.4"/><circle cx="284.4" cy="717.3" r="2.4"/><circle cx="285.9" cy="710.6" r="2.4"/><circle cx="285.9" cy="709.5" r="2.4"/><circle cx="285.7" cy="704.6" r="2.4"/><circle cx="285.8" cy="701.7" r="2.4"/><circle cx="285.1" cy="697.8" r="2.4"/><circle cx="285.9" cy="694.3" r="2.4"/><circle cx="284.9" cy="688.5" r="2.4"/><circle cx="385.7" cy="602.3" r="2.4"/><circle cx="388.2" cy="602.1" r="2.4"/><circle cx="387.6" cy="605.3" r="2.4"/><circle cx="391.2" cy="604.3" r="2.4"/><circle cx="384.7" cy="607.4" r="2.4"/><circle cx="388.6" cy="607.7" r="2.4"/><circle cx="392.8" cy="607.8" r="2.4"/><circle cx="386.9" cy="610.3" r="2.4"/><circle cx="391.3" cy="611.5" r="2.4"/><circle cx="385.2" cy="613.4" r="2.4"/><circle cx="388.7" cy="614.1" r="2.4"/><circle cx="393.1" cy="613.5" r="2.4"/><circle cx="384.2" cy="616.0" r="2.4"/><circle cx="386.2" cy="616.9" r="2.4"/><circle cx="390.8" cy="617.4" r="2.4"/><circle cx="392.9" cy="616.7" r="2.4"/><circle cx="383.9" cy="620.9" r="2.4"/><circle cx="387.2" cy="619.1" r="2.4"/><circle cx="391.3" cy="621.0" r="2.4"/><circle cx="381.9" cy="622.5" r="2.4"/><circle cx="386.5" cy="623.6" r="2.4"/><circle cx="389.4" cy="623.1" r="2.4"/><circle cx="385.9" cy="625.2" r="2.4"/><circle cx="387.6" cy="626.7" r="2.4"/><circle cx="391.4" cy="626.6" r="2.4"/><circle cx="390.8" cy="629.6" r="2.4"/><circle cx="391.6" cy="632.4" r="2.4"/><circle cx="391.1" cy="634.5" r="2.4"/><circle cx="387.0" cy="601.0" r="2.4"/><circle cx="390.0" cy="600.5" r="2.4"/><circle cx="390.9" cy="600.8" r="2.4"/><circle cx="392.1" cy="606.1" r="2.4"/><circle cx="393.6" cy="609.8" r="2.4"/><circle cx="393.1" cy="613.1" r="2.4"/><circle cx="394.6" cy="619.8" r="2.4"/><circle cx="393.4" cy="622.8" r="2.4"/><circle cx="394.5" cy="624.5" r="2.4"/><circle cx="394.1" cy="630.6" r="2.4"/><circle cx="394.2" cy="631.6" r="2.4"/><circle cx="390.2" cy="637.4" r="2.4"/><circle cx="389.4" cy="640.5" r="2.4"/><circle cx="389.7" cy="632.9" r="2.4"/><circle cx="384.3" cy="629.1" r="2.4"/><circle cx="383.4" cy="631.8" r="2.4"/><circle cx="382.7" cy="629.3" r="2.4"/><circle cx="382.8" cy="626.3" r="2.4"/><circle cx="382.0" cy="622.2" r="2.4"/><circle cx="381.9" cy="616.3" r="2.4"/><circle cx="382.2" cy="614.6" r="2.4"/><circle cx="381.9" cy="610.1" r="2.4"/><circle cx="383.3" cy="606.7" r="2.4"/><circle cx="385.7" cy="603.6" r="2.4"/><circle cx="462.6" cy="622.5" r="2.4"/><circle cx="465.3" cy="623.1" r="2.4"/><circle cx="463.2" cy="624.7" r="2.4"/><circle cx="466.4" cy="626.3" r="2.4"/><circle cx="462.9" cy="629.8" r="2.4"/><circle cx="465.0" cy="630.1" r="2.4"/><circle cx="469.8" cy="629.8" r="2.4"/><circle cx="463.5" cy="633.3" r="2.4"/><circle cx="467.0" cy="631.2" r="2.4"/><circle cx="470.2" cy="632.4" r="2.4"/><circle cx="464.4" cy="635.3" r="2.4"/><circle cx="470.1" cy="635.8" r="2.4"/><circle cx="464.8" cy="640.1" r="2.4"/><circle cx="468.6" cy="639.1" r="2.4"/><circle cx="465.8" cy="642.0" r="2.4"/><circle cx="469.2" cy="641.0" r="2.4"/><circle cx="463.7" cy="645.0" r="2.4"/><circle cx="467.7" cy="646.2" r="2.4"/><circle cx="465.6" cy="648.3" r="2.4"/><circle cx="467.3" cy="652.0" r="2.4"/><circle cx="464.8" cy="655.4" r="2.4"/><circle cx="468.8" cy="654.5" r="2.4"/><circle cx="463.5" cy="658.8" r="2.4"/><circle cx="466.5" cy="657.4" r="2.4"/><circle cx="466.5" cy="660.7" r="2.4"/><circle cx="466.5" cy="665.7" r="2.4"/><circle cx="463.5" cy="621.0" r="2.4"/><circle cx="466.9" cy="621.4" r="2.4"/><circle cx="469.7" cy="621.2" r="2.4"/><circle cx="470.5" cy="619.5" r="2.4"/><circle cx="470.8" cy="624.0" r="2.4"/><circle cx="470.0" cy="629.1" r="2.4"/><circle cx="470.1" cy="631.8" r="2.4"/><circle cx="471.7" cy="633.6" r="2.4"/><circle cx="469.9" cy="636.9" r="2.4"/><circle cx="469.8" cy="641.8" r="2.4"/><circle cx="470.9" cy="645.2" r="2.4"/><circle cx="469.6" cy="650.5" r="2.4"/><circle cx="470.3" cy="653.6" r="2.4"/><circle cx="470.6" cy="657.3" r="2.4"/><circle cx="468.2" cy="663.4" r="2.4"/><circle cx="469.3" cy="666.2" r="2.4"/><circle cx="465.6" cy="667.0" r="2.4"/><circle cx="463.5" cy="664.1" r="2.4"/><circle cx="463.6" cy="663.7" r="2.4"/><circle cx="464.1" cy="659.6" r="2.4"/><circle cx="462.8" cy="655.3" r="2.4"/><circle cx="462.5" cy="652.0" r="2.4"/><circle cx="462.2" cy="645.4" r="2.4"/><circle cx="462.1" cy="643.5" r="2.4"/><circle cx="463.1" cy="639.8" r="2.4"/><circle cx="463.4" cy="635.0" r="2.4"/><circle cx="462.6" cy="629.2" r="2.4"/><circle cx="463.3" cy="624.1" r="2.4"/><circle cx="462.8" cy="622.6" r="2.4"/><circle cx="549.2" cy="603.8" r="2.4"/><circle cx="531.9" cy="606.0" r="2.4"/><circle cx="534.0" cy="605.4" r="2.4"/><circle cx="537.1" cy="605.8" r="2.4"/><circle cx="540.3" cy="606.5" r="2.4"/><circle cx="544.7" cy="606.4" r="2.4"/><circle cx="547.0" cy="605.2" r="2.4"/><circle cx="550.1" cy="606.3" r="2.4"/><circle cx="553.3" cy="605.9" r="2.4"/><circle cx="556.0" cy="606.2" r="2.4"/><circle cx="575.9" cy="607.1" r="2.4"/><circle cx="581.7" cy="606.9" r="2.4"/><circle cx="586.3" cy="606.5" r="2.4"/><circle cx="591.7" cy="607.1" r="2.4"/><circle cx="526.9" cy="609.5" r="2.4"/><circle cx="529.8" cy="608.3" r="2.4"/><circle cx="533.8" cy="608.0" r="2.4"/><circle cx="535.3" cy="609.9" r="2.4"/><circle cx="539.1" cy="608.6" r="2.4"/><circle cx="542.8" cy="609.7" r="2.4"/><circle cx="544.9" cy="609.5" r="2.4"/><circle cx="547.4" cy="609.6" r="2.4"/><circle cx="551.0" cy="608.6" r="2.4"/><circle cx="553.2" cy="607.9" r="2.4"/><circle cx="557.0" cy="608.0" r="2.4"/><circle cx="560.5" cy="609.9" r="2.4"/><circle cx="562.8" cy="609.4" r="2.4"/><circle cx="572.9" cy="608.1" r="2.4"/><circle cx="575.6" cy="608.9" r="2.4"/><circle cx="577.6" cy="608.3" r="2.4"/><circle cx="582.1" cy="609.1" r="2.4"/><circle cx="584.2" cy="608.8" r="2.4"/><circle cx="587.9" cy="609.1" r="2.4"/><circle cx="589.6" cy="609.8" r="2.4"/><circle cx="593.9" cy="609.4" r="2.4"/><circle cx="596.6" cy="609.2" r="2.4"/><circle cx="598.8" cy="609.8" r="2.4"/><circle cx="522.8" cy="612.1" r="2.4"/><circle cx="526.7" cy="612.2" r="2.4"/><circle cx="529.1" cy="611.2" r="2.4"/><circle cx="532.6" cy="610.9" r="2.4"/><circle cx="534.3" cy="611.6" r="2.4"/><circle cx="537.4" cy="611.6" r="2.4"/><circle cx="539.9" cy="610.9" r="2.4"/><circle cx="542.7" cy="611.3" r="2.4"/><circle cx="546.2" cy="612.1" r="2.4"/><circle cx="549.2" cy="610.8" r="2.4"/><circle cx="553.2" cy="610.8" r="2.4"/><circle cx="556.4" cy="611.5" r="2.4"/><circle cx="558.0" cy="611.9" r="2.4"/><circle cx="562.7" cy="611.0" r="2.4"/><circle cx="564.8" cy="611.5" r="2.4"/><circle cx="568.6" cy="612.5" r="2.4"/><circle cx="569.8" cy="611.2" r="2.4"/><circle cx="574.3" cy="611.3" r="2.4"/><circle cx="576.7" cy="611.6" r="2.4"/><circle cx="578.7" cy="610.5" r="2.4"/><circle cx="583.5" cy="611.2" r="2.4"/><circle cx="585.6" cy="611.6" r="2.4"/><circle cx="589.2" cy="612.3" r="2.4"/><circle cx="590.8" cy="611.7" r="2.4"/><circle cx="593.7" cy="611.5" r="2.4"/><circle cx="598.4" cy="611.4" r="2.4"/><circle cx="600.4" cy="612.2" r="2.4"/><circle cx="520.2" cy="613.3" r="2.4"/><circle cx="525.2" cy="614.4" r="2.4"/><circle cx="526.2" cy="614.6" r="2.4"/><circle cx="530.7" cy="613.1" r="2.4"/><circle cx="534.2" cy="613.4" r="2.4"/><circle cx="536.2" cy="614.5" r="2.4"/><circle cx="539.2" cy="613.7" r="2.4"/><circle cx="542.2" cy="614.3" r="2.4"/><circle cx="546.2" cy="614.8" r="2.4"/><circle cx="549.2" cy="614.7" r="2.4"/><circle cx="551.2" cy="613.7" r="2.4"/><circle cx="555.1" cy="614.9" r="2.4"/><circle cx="556.8" cy="614.7" r="2.4"/><circle cx="559.9" cy="613.1" r="2.4"/><circle cx="563.1" cy="614.9" r="2.4"/><circle cx="566.3" cy="614.7" r="2.4"/><circle cx="569.9" cy="614.7" r="2.4"/><circle cx="571.8" cy="614.9" r="2.4"/><circle cx="574.3" cy="614.1" r="2.4"/><circle cx="577.3" cy="613.8" r="2.4"/><circle cx="582.0" cy="614.7" r="2.4"/><circle cx="585.2" cy="614.2" r="2.4"/><circle cx="587.2" cy="613.3" r="2.4"/><circle cx="590.2" cy="614.9" r="2.4"/><circle cx="592.9" cy="614.8" r="2.4"/><circle cx="595.8" cy="614.7" r="2.4"/><circle cx="598.6" cy="615.0" r="2.4"/><circle cx="601.4" cy="613.2" r="2.4"/><circle cx="519.3" cy="616.2" r="2.4"/><circle cx="522.1" cy="615.7" r="2.4"/><circle cx="525.1" cy="616.7" r="2.4"/><circle cx="528.9" cy="616.3" r="2.4"/><circle cx="531.9" cy="616.3" r="2.4"/><circle cx="535.3" cy="615.6" r="2.4"/><circle cx="538.3" cy="617.5" r="2.4"/><circle cx="540.9" cy="616.9" r="2.4"/><circle cx="544.7" cy="615.9" r="2.4"/><circle cx="545.8" cy="616.7" r="2.4"/><circle cx="550.2" cy="616.7" r="2.4"/><circle cx="552.7" cy="616.5" r="2.4"/><circle cx="555.6" cy="617.5" r="2.4"/><circle cx="557.8" cy="617.0" r="2.4"/><circle cx="560.8" cy="617.4" r="2.4"/><circle cx="564.2" cy="617.3" r="2.4"/><circle cx="567.3" cy="616.9" r="2.4"/><circle cx="570.7" cy="617.6" r="2.4"/><circle cx="573.6" cy="616.7" r="2.4"/><circle cx="576.7" cy="616.1" r="2.4"/><circle cx="580.6" cy="616.3" r="2.4"/><circle cx="582.0" cy="616.0" r="2.4"/><circle cx="586.2" cy="617.5" r="2.4"/><circle cx="588.9" cy="617.6" r="2.4"/><circle cx="591.1" cy="617.5" r="2.4"/><circle cx="595.3" cy="616.1" r="2.4"/><circle cx="596.8" cy="616.5" r="2.4"/><circle cx="600.5" cy="616.6" r="2.4"/><circle cx="604.2" cy="616.1" r="2.4"/><circle cx="521.4" cy="618.8" r="2.4"/><circle cx="523.4" cy="619.8" r="2.4"/><circle cx="526.3" cy="620.0" r="2.4"/><circle cx="530.4" cy="618.7" r="2.4"/><circle cx="532.2" cy="620.0" r="2.4"/><circle cx="535.2" cy="619.8" r="2.4"/><circle cx="539.3" cy="619.7" r="2.4"/><circle cx="541.6" cy="619.8" r="2.4"/><circle cx="544.7" cy="619.5" r="2.4"/><circle cx="549.2" cy="619.5" r="2.4"/><circle cx="550.5" cy="618.7" r="2.4"/><circle cx="554.0" cy="620.0" r="2.4"/><circle cx="557.8" cy="619.0" r="2.4"/><circle cx="560.4" cy="619.0" r="2.4"/><circle cx="563.2" cy="618.9" r="2.4"/><circle cx="567.1" cy="619.0" r="2.4"/><circle cx="568.8" cy="619.5" r="2.4"/><circle cx="571.6" cy="618.5" r="2.4"/><circle cx="575.1" cy="620.0" r="2.4"/><circle cx="577.9" cy="618.8" r="2.4"/><circle cx="580.8" cy="619.5" r="2.4"/><circle cx="583.7" cy="619.3" r="2.4"/><circle cx="587.2" cy="618.3" r="2.4"/><circle cx="589.8" cy="619.9" r="2.4"/><circle cx="592.6" cy="619.8" r="2.4"/><circle cx="595.3" cy="619.2" r="2.4"/><circle cx="599.0" cy="619.6" r="2.4"/><circle cx="601.2" cy="618.5" r="2.4"/><circle cx="605.0" cy="620.1" r="2.4"/><circle cx="522.2" cy="621.3" r="2.4"/><circle cx="525.8" cy="621.7" r="2.4"/><circle cx="529.7" cy="622.8" r="2.4"/><circle cx="532.2" cy="621.3" r="2.4"/><circle cx="534.1" cy="621.8" r="2.4"/><circle cx="537.3" cy="621.3" r="2.4"/><circle cx="540.1" cy="621.4" r="2.4"/><circle cx="543.3" cy="621.1" r="2.4"/><circle cx="546.3" cy="622.8" r="2.4"/><circle cx="550.4" cy="622.1" r="2.4"/><circle cx="553.7" cy="622.8" r="2.4"/><circle cx="554.8" cy="620.9" r="2.4"/><circle cx="558.3" cy="621.9" r="2.4"/><circle cx="562.7" cy="620.9" r="2.4"/><circle cx="565.1" cy="622.5" r="2.4"/><circle cx="567.2" cy="622.4" r="2.4"/><circle cx="571.5" cy="621.0" r="2.4"/><circle cx="574.0" cy="621.8" r="2.4"/><circle cx="577.3" cy="621.1" r="2.4"/><circle cx="580.0" cy="620.9" r="2.4"/><circle cx="581.7" cy="621.7" r="2.4"/><circle cx="585.4" cy="621.7" r="2.4"/><circle cx="588.1" cy="622.9" r="2.4"/><circle cx="591.5" cy="621.9" r="2.4"/><circle cx="594.4" cy="622.7" r="2.4"/><circle cx="597.0" cy="622.8" r="2.4"/><circle cx="600.1" cy="622.7" r="2.4"/><circle cx="603.5" cy="622.1" r="2.4"/><circle cx="521.5" cy="625.3" r="2.4"/><circle cx="529.4" cy="625.1" r="2.4"/><circle cx="534.1" cy="623.7" r="2.4"/><circle cx="535.2" cy="625.1" r="2.4"/><circle cx="538.9" cy="624.9" r="2.4"/><circle cx="542.9" cy="625.4" r="2.4"/><circle cx="545.2" cy="625.2" r="2.4"/><circle cx="549.1" cy="625.1" r="2.4"/><circle cx="550.9" cy="625.4" r="2.4"/><circle cx="554.0" cy="625.3" r="2.4"/><circle cx="557.0" cy="624.5" r="2.4"/><circle cx="559.2" cy="623.7" r="2.4"/><circle cx="564.1" cy="624.4" r="2.4"/><circle cx="566.7" cy="624.4" r="2.4"/><circle cx="569.7" cy="624.5" r="2.4"/><circle cx="571.5" cy="624.1" r="2.4"/><circle cx="575.5" cy="623.8" r="2.4"/><circle cx="579.1" cy="623.6" r="2.4"/><circle cx="581.3" cy="625.3" r="2.4"/><circle cx="584.7" cy="623.7" r="2.4"/><circle cx="586.4" cy="624.9" r="2.4"/><circle cx="590.0" cy="623.6" r="2.4"/><circle cx="592.4" cy="624.8" r="2.4"/><circle cx="595.2" cy="624.0" r="2.4"/><circle cx="600.1" cy="624.0" r="2.4"/><circle cx="602.9" cy="623.5" r="2.4"/><circle cx="604.6" cy="623.5" r="2.4"/><circle cx="520.2" cy="626.3" r="2.4"/><circle cx="522.6" cy="626.1" r="2.4"/><circle cx="532.7" cy="627.3" r="2.4"/><circle cx="538.4" cy="626.5" r="2.4"/><circle cx="544.7" cy="628.0" r="2.4"/><circle cx="546.7" cy="626.4" r="2.4"/><circle cx="550.5" cy="626.5" r="2.4"/><circle cx="552.9" cy="626.9" r="2.4"/><circle cx="556.4" cy="626.8" r="2.4"/><circle cx="558.4" cy="627.8" r="2.4"/><circle cx="562.2" cy="628.1" r="2.4"/><circle cx="563.9" cy="626.3" r="2.4"/><circle cx="568.1" cy="627.1" r="2.4"/><circle cx="571.5" cy="627.0" r="2.4"/><circle cx="572.7" cy="627.0" r="2.4"/><circle cx="576.2" cy="627.7" r="2.4"/><circle cx="580.3" cy="627.9" r="2.4"/><circle cx="581.9" cy="627.2" r="2.4"/><circle cx="585.1" cy="628.1" r="2.4"/><circle cx="588.0" cy="627.4" r="2.4"/><circle cx="592.2" cy="626.5" r="2.4"/><circle cx="594.9" cy="626.3" r="2.4"/><circle cx="596.8" cy="626.6" r="2.4"/><circle cx="599.8" cy="627.0" r="2.4"/><circle cx="520.8" cy="629.4" r="2.4"/><circle cx="544.7" cy="629.7" r="2.4"/><circle cx="547.4" cy="630.3" r="2.4"/><circle cx="551.0" cy="628.7" r="2.4"/><circle cx="554.2" cy="629.6" r="2.4"/><circle cx="556.6" cy="629.3" r="2.4"/><circle cx="560.6" cy="630.8" r="2.4"/><circle cx="563.4" cy="629.2" r="2.4"/><circle cx="565.2" cy="629.3" r="2.4"/><circle cx="568.7" cy="629.5" r="2.4"/><circle cx="572.1" cy="629.2" r="2.4"/><circle cx="574.5" cy="630.6" r="2.4"/><circle cx="579.1" cy="630.2" r="2.4"/><circle cx="582.1" cy="629.9" r="2.4"/><circle cx="584.7" cy="629.6" r="2.4"/><circle cx="587.5" cy="630.4" r="2.4"/><circle cx="590.6" cy="630.3" r="2.4"/><circle cx="593.4" cy="629.4" r="2.4"/><circle cx="596.8" cy="630.5" r="2.4"/><circle cx="598.6" cy="629.0" r="2.4"/><circle cx="601.2" cy="629.2" r="2.4"/><circle cx="552.5" cy="633.4" r="2.4"/><circle cx="556.1" cy="631.8" r="2.4"/><circle cx="559.3" cy="631.6" r="2.4"/><circle cx="561.8" cy="632.8" r="2.4"/><circle cx="564.0" cy="631.4" r="2.4"/><circle cx="568.4" cy="631.7" r="2.4"/><circle cx="571.2" cy="632.3" r="2.4"/><circle cx="573.1" cy="633.1" r="2.4"/><circle cx="576.4" cy="631.8" r="2.4"/><circle cx="580.5" cy="633.3" r="2.4"/><circle cx="582.3" cy="633.3" r="2.4"/><circle cx="584.9" cy="632.9" r="2.4"/><circle cx="588.9" cy="631.8" r="2.4"/><circle cx="591.5" cy="631.9" r="2.4"/><circle cx="595.1" cy="632.2" r="2.4"/><circle cx="597.5" cy="632.7" r="2.4"/><circle cx="600.4" cy="631.4" r="2.4"/><circle cx="575.8" cy="634.0" r="2.4"/><circle cx="578.2" cy="634.7" r="2.4"/><circle cx="519.9" cy="612.6" r="2.4"/><circle cx="523.2" cy="610.4" r="2.4"/><circle cx="527.8" cy="606.7" r="2.4"/><circle cx="530.4" cy="604.7" r="2.4"/><circle cx="531.6" cy="605.2" r="2.4"/><circle cx="539.4" cy="604.6" r="2.4"/><circle cx="546.4" cy="603.5" r="2.4"/><circle cx="547.9" cy="603.5" r="2.4"/><circle cx="549.7" cy="602.5" r="2.4"/><circle cx="556.2" cy="603.6" r="2.4"/><circle cx="558.7" cy="605.4" r="2.4"/><circle cx="559.6" cy="606.2" r="2.4"/><circle cx="565.8" cy="609.6" r="2.4"/><circle cx="567.1" cy="608.6" r="2.4"/><circle cx="573.1" cy="606.0" r="2.4"/><circle cx="576.9" cy="605.0" r="2.4"/><circle cx="580.0" cy="606.8" r="2.4"/><circle cx="581.9" cy="606.3" r="2.4"/><circle cx="586.9" cy="606.2" r="2.4"/><circle cx="589.4" cy="607.1" r="2.4"/><circle cx="592.4" cy="606.4" r="2.4"/><circle cx="594.2" cy="606.3" r="2.4"/><circle cx="603.1" cy="609.7" r="2.4"/><circle cx="603.5" cy="611.3" r="2.4"/><circle cx="604.4" cy="613.6" r="2.4"/><circle cx="606.7" cy="618.8" r="2.4"/><circle cx="606.3" cy="618.1" r="2.4"/><circle cx="604.7" cy="623.4" r="2.4"/><circle cx="604.4" cy="626.7" r="2.4"/><circle cx="602.6" cy="630.7" r="2.4"/><circle cx="601.5" cy="632.7" r="2.4"/><circle cx="600.8" cy="634.5" r="2.4"/><circle cx="595.0" cy="634.1" r="2.4"/><circle cx="592.2" cy="634.5" r="2.4"/><circle cx="589.3" cy="633.5" r="2.4"/><circle cx="583.2" cy="634.7" r="2.4"/><circle cx="577.9" cy="634.4" r="2.4"/><circle cx="575.5" cy="634.8" r="2.4"/><circle cx="573.3" cy="634.7" r="2.4"/><circle cx="569.9" cy="635.5" r="2.4"/><circle cx="566.1" cy="635.2" r="2.4"/><circle cx="559.3" cy="634.3" r="2.4"/><circle cx="556.9" cy="634.0" r="2.4"/><circle cx="554.5" cy="633.7" r="2.4"/><circle cx="549.7" cy="631.7" r="2.4"/><circle cx="543.6" cy="630.1" r="2.4"/><circle cx="539.7" cy="626.6" r="2.4"/><circle cx="531.0" cy="628.6" r="2.4"/><circle cx="530.6" cy="628.1" r="2.4"/><circle cx="527.9" cy="625.7" r="2.4"/><circle cx="522.5" cy="630.0" r="2.4"/><circle cx="521.9" cy="633.2" r="2.4"/><circle cx="521.5" cy="637.3" r="2.4"/><circle cx="520.3" cy="637.0" r="2.4"/><circle cx="520.2" cy="635.7" r="2.4"/><circle cx="518.7" cy="631.6" r="2.4"/><circle cx="518.6" cy="625.1" r="2.4"/><circle cx="518.8" cy="624.2" r="2.4"/><circle cx="518.3" cy="617.8" r="2.4"/><circle cx="517.9" cy="615.5" r="2.4"/><circle cx="588.5" cy="634.5" r="2.4"/><circle cx="590.8" cy="634.3" r="2.4"/><circle cx="592.6" cy="634.2" r="2.4"/><circle cx="596.7" cy="633.2" r="2.4"/><circle cx="599.0" cy="634.0" r="2.4"/><circle cx="603.4" cy="634.1" r="2.4"/><circle cx="604.5" cy="633.8" r="2.4"/><circle cx="585.1" cy="636.4" r="2.4"/><circle cx="588.5" cy="635.9" r="2.4"/><circle cx="592.0" cy="637.1" r="2.4"/><circle cx="594.5" cy="636.4" r="2.4"/><circle cx="598.3" cy="636.8" r="2.4"/><circle cx="601.7" cy="635.6" r="2.4"/><circle cx="585.3" cy="638.5" r="2.4"/><circle cx="587.9" cy="639.2" r="2.4"/><circle cx="589.5" cy="639.4" r="2.4"/><circle cx="594.2" cy="638.1" r="2.4"/><circle cx="596.1" cy="638.7" r="2.4"/><circle cx="586.9" cy="640.8" r="2.4"/><circle cx="589.3" cy="641.7" r="2.4"/><circle cx="591.9" cy="642.2" r="2.4"/><circle cx="594.1" cy="641.0" r="2.4"/><circle cx="585.4" cy="644.4" r="2.4"/><circle cx="587.5" cy="644.7" r="2.4"/><circle cx="589.7" cy="644.8" r="2.4"/><circle cx="593.1" cy="643.9" r="2.4"/><circle cx="586.3" cy="647.1" r="2.4"/><circle cx="589.0" cy="645.8" r="2.4"/><circle cx="592.8" cy="646.0" r="2.4"/><circle cx="585.0" cy="649.1" r="2.4"/><circle cx="588.5" cy="648.4" r="2.4"/><circle cx="590.1" cy="648.9" r="2.4"/><circle cx="593.6" cy="649.6" r="2.4"/><circle cx="589.8" cy="652.1" r="2.4"/><circle cx="591.5" cy="650.9" r="2.4"/><circle cx="583.8" cy="631.8" r="2.4"/><circle cx="588.3" cy="632.8" r="2.4"/><circle cx="592.6" cy="632.2" r="2.4"/><circle cx="598.9" cy="633.1" r="2.4"/><circle cx="600.1" cy="631.8" r="2.4"/><circle cx="605.9" cy="633.6" r="2.4"/><circle cx="604.9" cy="634.6" r="2.4"/><circle cx="602.3" cy="636.5" r="2.4"/><circle cx="602.0" cy="637.2" r="2.4"/><circle cx="597.2" cy="640.0" r="2.4"/><circle cx="594.0" cy="643.5" r="2.4"/><circle cx="594.2" cy="649.7" r="2.4"/><circle cx="593.8" cy="653.4" r="2.4"/><circle cx="591.0" cy="654.8" r="2.4"/><circle cx="587.6" cy="653.3" r="2.4"/><circle cx="586.8" cy="653.8" r="2.4"/><circle cx="583.8" cy="649.6" r="2.4"/><circle cx="584.7" cy="645.8" r="2.4"/><circle cx="584.5" cy="643.8" r="2.4"/><circle cx="584.8" cy="638.5" r="2.4"/><circle cx="584.6" cy="636.5" r="2.4"/><circle cx="584.6" cy="632.5" r="2.4"/><circle cx="660.0" cy="607.3" r="2.4"/><circle cx="656.7" cy="608.8" r="2.4"/><circle cx="658.4" cy="608.9" r="2.4"/><circle cx="662.3" cy="608.9" r="2.4"/><circle cx="656.8" cy="612.2" r="2.4"/><circle cx="660.9" cy="612.7" r="2.4"/><circle cx="665.8" cy="614.6" r="2.4"/><circle cx="655.7" cy="618.0" r="2.4"/><circle cx="658.1" cy="617.1" r="2.4"/><circle cx="662.9" cy="616.7" r="2.4"/><circle cx="657.6" cy="619.3" r="2.4"/><circle cx="660.4" cy="619.2" r="2.4"/><circle cx="666.0" cy="621.1" r="2.4"/><circle cx="654.2" cy="622.3" r="2.4"/><circle cx="659.8" cy="623.6" r="2.4"/><circle cx="663.0" cy="623.3" r="2.4"/><circle cx="656.2" cy="627.1" r="2.4"/><circle cx="660.4" cy="626.5" r="2.4"/><circle cx="663.9" cy="625.9" r="2.4"/><circle cx="655.2" cy="630.5" r="2.4"/><circle cx="659.5" cy="629.2" r="2.4"/><circle cx="663.0" cy="629.8" r="2.4"/><circle cx="655.8" cy="608.0" r="2.4"/><circle cx="659.7" cy="605.1" r="2.4"/><circle cx="658.4" cy="606.4" r="2.4"/><circle cx="664.0" cy="606.8" r="2.4"/><circle cx="665.6" cy="610.6" r="2.4"/><circle cx="667.0" cy="614.9" r="2.4"/><circle cx="665.6" cy="618.7" r="2.4"/><circle cx="667.3" cy="621.4" r="2.4"/><circle cx="666.4" cy="625.6" r="2.4"/><circle cx="666.5" cy="627.0" r="2.4"/><circle cx="666.3" cy="633.8" r="2.4"/><circle cx="665.3" cy="631.8" r="2.4"/><circle cx="661.2" cy="634.6" r="2.4"/><circle cx="658.8" cy="635.1" r="2.4"/><circle cx="657.9" cy="634.9" r="2.4"/><circle cx="654.2" cy="632.5" r="2.4"/><circle cx="654.8" cy="629.1" r="2.4"/><circle cx="653.2" cy="627.0" r="2.4"/><circle cx="654.5" cy="623.5" r="2.4"/><circle cx="653.2" cy="620.6" r="2.4"/><circle cx="654.1" cy="614.0" r="2.4"/><circle cx="653.4" cy="608.8" r="2.4"/><circle cx="676.4" cy="610.5" r="2.4"/><circle cx="680.0" cy="609.7" r="2.4"/><circle cx="682.6" cy="611.4" r="2.4"/><circle cx="685.4" cy="610.6" r="2.4"/><circle cx="688.9" cy="611.3" r="2.4"/><circle cx="674.4" cy="614.3" r="2.4"/><circle cx="677.7" cy="613.6" r="2.4"/><circle cx="680.1" cy="613.7" r="2.4"/><circle cx="684.1" cy="614.1" r="2.4"/><circle cx="686.4" cy="612.3" r="2.4"/><circle cx="689.6" cy="613.1" r="2.4"/><circle cx="674.1" cy="616.6" r="2.4"/><circle cx="675.5" cy="616.9" r="2.4"/><circle cx="678.6" cy="615.4" r="2.4"/><circle cx="681.6" cy="616.5" r="2.4"/><circle cx="686.5" cy="615.4" r="2.4"/><circle cx="688.6" cy="616.9" r="2.4"/><circle cx="675.8" cy="618.5" r="2.4"/><circle cx="678.2" cy="617.6" r="2.4"/><circle cx="680.8" cy="619.1" r="2.4"/><circle cx="683.0" cy="617.9" r="2.4"/><circle cx="687.1" cy="617.5" r="2.4"/><circle cx="689.3" cy="619.0" r="2.4"/><circle cx="674.4" cy="621.2" r="2.4"/><circle cx="676.9" cy="620.2" r="2.4"/><circle cx="679.6" cy="621.2" r="2.4"/><circle cx="682.5" cy="621.1" r="2.4"/><circle cx="684.6" cy="621.3" r="2.4"/><circle cx="688.2" cy="621.5" r="2.4"/><circle cx="675.0" cy="623.3" r="2.4"/><circle cx="677.9" cy="623.2" r="2.4"/><circle cx="681.1" cy="623.4" r="2.4"/><circle cx="683.5" cy="624.8" r="2.4"/><circle cx="688.0" cy="623.7" r="2.4"/><circle cx="673.5" cy="627.0" r="2.4"/><circle cx="675.6" cy="626.1" r="2.4"/><circle cx="678.6" cy="626.5" r="2.4"/><circle cx="681.5" cy="626.2" r="2.4"/><circle cx="684.7" cy="626.0" r="2.4"/><circle cx="689.5" cy="625.8" r="2.4"/><circle cx="674.8" cy="629.2" r="2.4"/><circle cx="677.4" cy="628.4" r="2.4"/><circle cx="680.1" cy="628.4" r="2.4"/><circle cx="683.8" cy="629.1" r="2.4"/><circle cx="686.6" cy="629.0" r="2.4"/><circle cx="681.8" cy="631.2" r="2.4"/><circle cx="684.7" cy="631.6" r="2.4"/><circle cx="673.5" cy="611.5" r="2.4"/><circle cx="676.1" cy="610.2" r="2.4"/><circle cx="678.9" cy="608.4" r="2.4"/><circle cx="685.6" cy="609.6" r="2.4"/><circle cx="690.6" cy="604.9" r="2.4"/><circle cx="688.1" cy="596.6" r="2.4"/><circle cx="692.8" cy="595.5" r="2.4"/><circle cx="693.9" cy="600.5" r="2.4"/><circle cx="690.8" cy="604.8" r="2.4"/><circle cx="690.5" cy="609.6" r="2.4"/><circle cx="690.5" cy="613.8" r="2.4"/><circle cx="690.7" cy="617.8" r="2.4"/><circle cx="689.1" cy="620.8" r="2.4"/><circle cx="689.4" cy="623.2" r="2.4"/><circle cx="690.3" cy="629.2" r="2.4"/><circle cx="686.5" cy="632.3" r="2.4"/><circle cx="685.1" cy="632.2" r="2.4"/><circle cx="679.5" cy="631.1" r="2.4"/><circle cx="677.5" cy="632.2" r="2.4"/><circle cx="672.5" cy="632.2" r="2.4"/><circle cx="672.8" cy="633.5" r="2.4"/><circle cx="673.0" cy="628.3" r="2.4"/><circle cx="672.7" cy="624.4" r="2.4"/><circle cx="673.2" cy="620.2" r="2.4"/><circle cx="672.7" cy="617.2" r="2.4"/><circle cx="673.2" cy="611.0" r="2.4"/><circle cx="676.5" cy="637.1" r="2.4"/><circle cx="681.0" cy="636.1" r="2.4"/><circle cx="683.5" cy="635.8" r="2.4"/><circle cx="688.7" cy="635.2" r="2.4"/><circle cx="673.7" cy="640.7" r="2.4"/><circle cx="677.0" cy="639.1" r="2.4"/><circle cx="683.2" cy="640.6" r="2.4"/><circle cx="686.0" cy="639.9" r="2.4"/><circle cx="672.7" cy="644.1" r="2.4"/><circle cx="676.9" cy="642.1" r="2.4"/><circle cx="680.0" cy="643.9" r="2.4"/><circle cx="685.2" cy="644.0" r="2.4"/><circle cx="687.0" cy="643.5" r="2.4"/><circle cx="673.6" cy="645.4" r="2.4"/><circle cx="689.4" cy="645.8" r="2.4"/><circle cx="672.3" cy="634.2" r="2.4"/><circle cx="677.0" cy="635.7" r="2.4"/><circle cx="679.8" cy="635.3" r="2.4"/><circle cx="683.9" cy="633.9" r="2.4"/><circle cx="689.3" cy="633.4" r="2.4"/><circle cx="687.9" cy="634.0" r="2.4"/><circle cx="689.2" cy="636.0" r="2.4"/><circle cx="689.5" cy="640.4" r="2.4"/><circle cx="689.6" cy="645.0" r="2.4"/><circle cx="689.4" cy="647.7" r="2.4"/><circle cx="688.9" cy="646.7" r="2.4"/><circle cx="686.3" cy="645.7" r="2.4"/><circle cx="683.6" cy="645.4" r="2.4"/><circle cx="678.0" cy="646.6" r="2.4"/><circle cx="671.6" cy="646.1" r="2.4"/><circle cx="670.4" cy="643.2" r="2.4"/><circle cx="671.4" cy="641.7" r="2.4"/><circle cx="671.1" cy="637.8" r="2.4"/>
</g>

<g stroke="#000" stroke-width="2.0" fill="none" stroke-linejoin="round">
<path clip-path="url(#c1)" d="M80.5 268.4L262 268.4L392.5 40"/>
<path clip-path="url(#c2)" d="M408.5 239.3L688.8 239.3L709 40.5"/>
<path clip-path="url(#c3)" d="M633.4 616.8L690.6 616.8L693.4 417.5"/>
</g>
<g fill="#000">
<text transform="translate(123.50 396.75) scale(0.925 1)" font-size="13" text-anchor="middle">9728</text>
<text transform="translate(175.50 396.75) scale(0.925 1)" font-size="13" text-anchor="middle">9729</text>
<text transform="translate(227.50 396.75) scale(0.925 1)" font-size="13" text-anchor="middle">9730</text>
<text transform="translate(279.50 396.75) scale(0.925 1)" font-size="13" text-anchor="middle">9731</text>
<text transform="translate(331.50 396.75) scale(0.925 1)" font-size="13" text-anchor="middle">9732</text>
<text transform="translate(383.50 396.75) scale(0.925 1)" font-size="13" text-anchor="middle">9733</text>
<text transform="translate(75.30 86.60) scale(0.925 1)" font-size="13" text-anchor="end">3000</text>
<text transform="translate(75.30 141.85) scale(0.925 1)" font-size="13" text-anchor="end">2000</text>
<text transform="translate(75.30 197.10) scale(0.925 1)" font-size="13" text-anchor="end">1000</text>
<text transform="translate(75.30 252.35) scale(0.925 1)" font-size="13" text-anchor="end">0</text>
<text transform="translate(75.30 307.60) scale(0.925 1)" font-size="13" text-anchor="end">−1000</text>
<text transform="translate(75.30 362.85) scale(0.925 1)" font-size="13" text-anchor="end">−2000</text>
<text transform="translate(455.50 396.75) scale(0.925 1)" font-size="13" text-anchor="middle">9640</text>
<text transform="translate(507.50 396.75) scale(0.925 1)" font-size="13" text-anchor="middle">9660</text>
<text transform="translate(558.50 396.75) scale(0.925 1)" font-size="13" text-anchor="middle">9680</text>
<text transform="translate(610.50 396.75) scale(0.925 1)" font-size="13" text-anchor="middle">9700</text>
<text transform="translate(661.50 396.75) scale(0.925 1)" font-size="13" text-anchor="middle">9720</text>
<text transform="translate(713.50 396.75) scale(0.925 1)" font-size="13" text-anchor="middle">9740</text>
<text transform="translate(725.20 78.00) scale(0.925 1)" font-size="13" text-anchor="start">10000</text>
<text transform="translate(725.20 118.10) scale(0.925 1)" font-size="13" text-anchor="start">7500</text>
<text transform="translate(725.20 158.20) scale(0.925 1)" font-size="13" text-anchor="start">5000</text>
<text transform="translate(725.20 198.30) scale(0.925 1)" font-size="13" text-anchor="start">2500</text>
<text transform="translate(725.20 238.40) scale(0.925 1)" font-size="13" text-anchor="start">0</text>
<text transform="translate(725.20 278.50) scale(0.925 1)" font-size="13" text-anchor="start">−2500</text>
<text transform="translate(725.20 318.60) scale(0.925 1)" font-size="13" text-anchor="start">−5000</text>
<text transform="translate(725.20 358.70) scale(0.925 1)" font-size="13" text-anchor="start">−7500</text>
<text transform="translate(119.50 774.00) scale(0.925 1)" font-size="13" text-anchor="middle">8200</text>
<text transform="translate(194.50 774.00) scale(0.925 1)" font-size="13" text-anchor="middle">8400</text>
<text transform="translate(268.50 774.00) scale(0.925 1)" font-size="13" text-anchor="middle">8600</text>
<text transform="translate(343.50 774.00) scale(0.925 1)" font-size="13" text-anchor="middle">8800</text>
<text transform="translate(418.50 774.00) scale(0.925 1)" font-size="13" text-anchor="middle">9000</text>
<text transform="translate(492.50 774.00) scale(0.925 1)" font-size="13" text-anchor="middle">9200</text>
<text transform="translate(567.50 774.00) scale(0.925 1)" font-size="13" text-anchor="middle">9400</text>
<text transform="translate(641.50 774.00) scale(0.925 1)" font-size="13" text-anchor="middle">9600</text>
<text transform="translate(716.50 774.00) scale(0.925 1)" font-size="13" text-anchor="middle">9800</text>
<text transform="translate(74.00 455.00) scale(0.925 1)" font-size="13" text-anchor="end">10000</text>
<text transform="translate(74.00 495.14) scale(0.925 1)" font-size="13" text-anchor="end">7500</text>
<text transform="translate(74.00 535.28) scale(0.925 1)" font-size="13" text-anchor="end">5000</text>
<text transform="translate(74.00 575.42) scale(0.925 1)" font-size="13" text-anchor="end">2500</text>
<text transform="translate(74.00 615.56) scale(0.925 1)" font-size="13" text-anchor="end">0</text>
<text transform="translate(74.00 655.70) scale(0.925 1)" font-size="13" text-anchor="end">−2500</text>
<text transform="translate(74.00 695.84) scale(0.925 1)" font-size="13" text-anchor="end">−5000</text>
<text transform="translate(74.00 735.98) scale(0.925 1)" font-size="13" text-anchor="end">−7500</text>
<text transform="translate(400.00 791.00) scale(0.94 1)" font-size="13" text-anchor="middle">HJD-2450000</text>
</g>
<g font-size="15" fill="#000" text-anchor="middle">
<text x="236" y="32">SAO41N0703.050910 (7067.30, 2456.57)</text>
<text x="564" y="32">3 887 2479.91 0.159 312 [9728.67441, 9732.67441]</text>
</g>
<g font-size="13" fill="#000" text-anchor="middle">
<text transform="translate(34 213.3) rotate(-90)">Δ Flux</text>
<text transform="translate(771 213.3) rotate(-90)">Δ Flux</text>
<text transform="translate(34 590) rotate(-90)">Δ Flux</text>
</g>
</svg></body></html>
